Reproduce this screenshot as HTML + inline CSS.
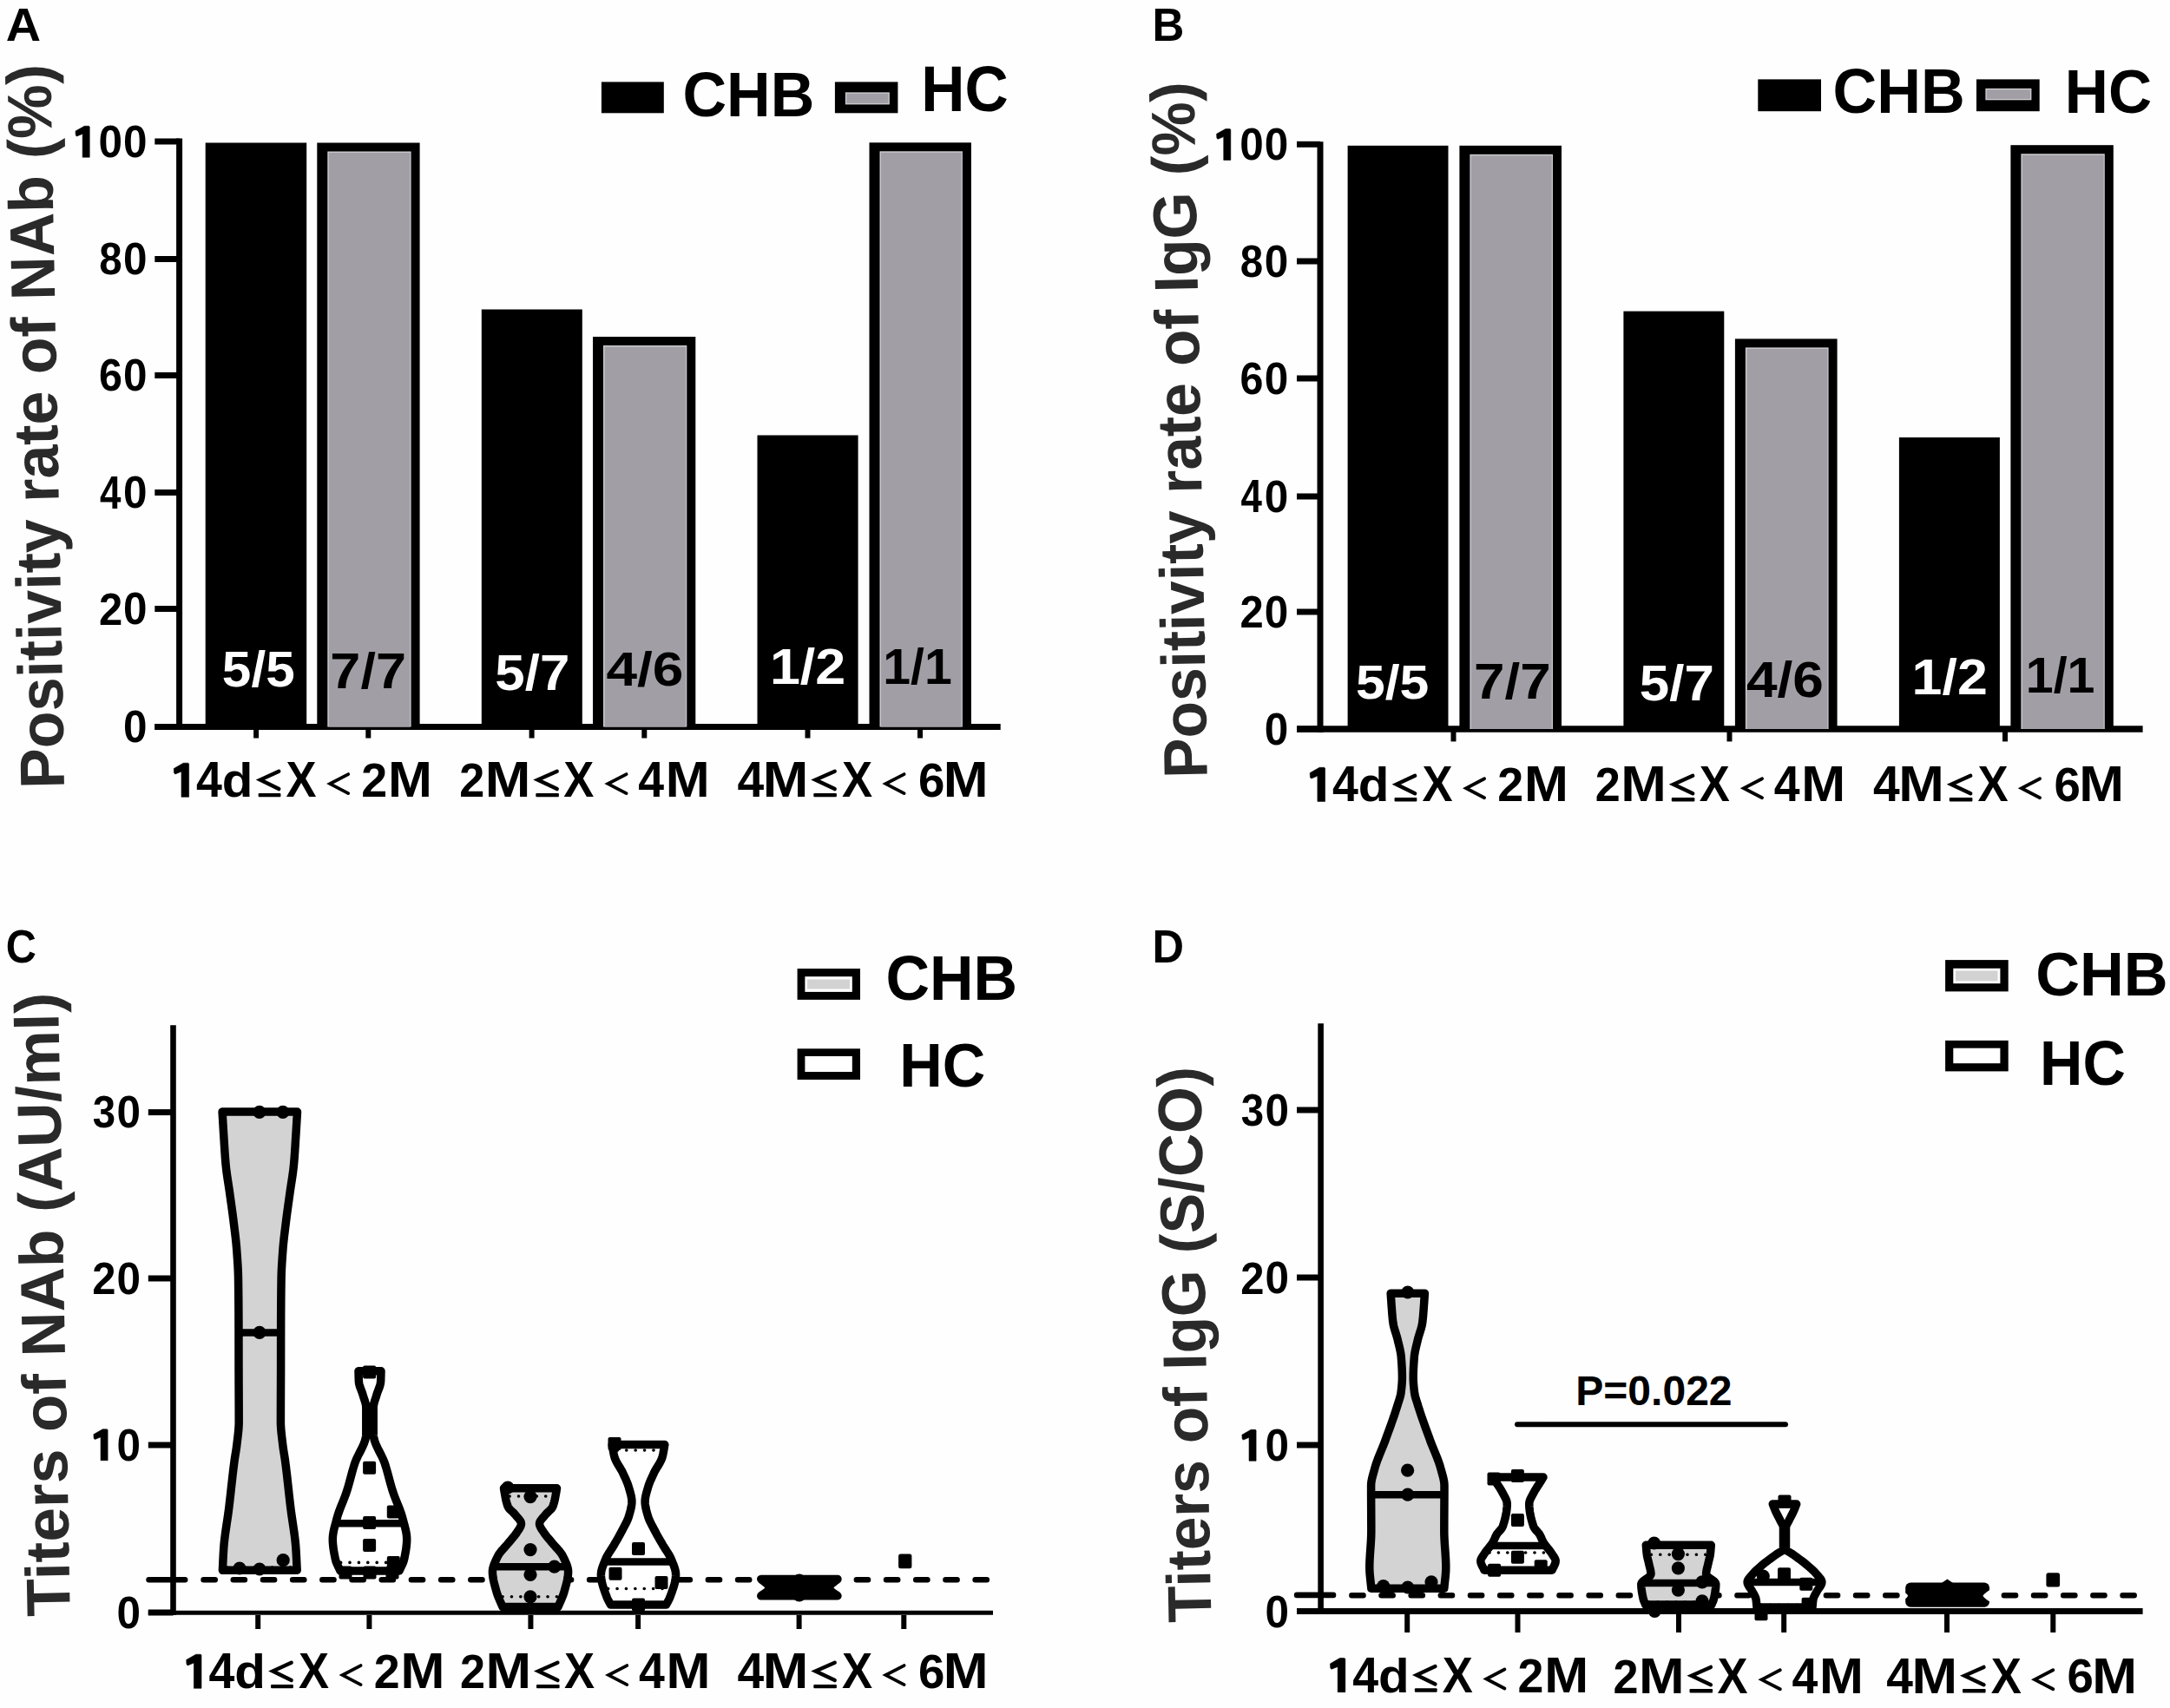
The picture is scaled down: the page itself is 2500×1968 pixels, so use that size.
<!DOCTYPE html>
<html><head><meta charset="utf-8"><style>
html,body{margin:0;padding:0;background:#fff;}
svg{display:block;}
text{font-family:"Liberation Sans",sans-serif;}
</style></head><body>
<svg width="2500" height="1968" viewBox="0 0 2500 1968" xmlns="http://www.w3.org/2000/svg">
<rect x="0" y="0" width="2500" height="1968" fill="#fefefe"/>
<text x="6.70" y="47.00" font-size="53.91" font-weight="bold" textLength="40.31" lengthAdjust="spacingAndGlyphs" fill="#000" >A</text>
<rect x="692.90" y="94.40" width="71.90" height="35.90" fill="#000" />
<text x="786.50" y="134.00" font-size="72.46" font-weight="bold" textLength="151.76" lengthAdjust="spacingAndGlyphs" fill="#000" >CHB</text>
<rect x="961.90" y="94.40" width="72.50" height="35.90" fill="#000" />
<rect x="973.90" y="106.40" width="50.90" height="14.00" fill="#d0d0d0" />
<rect x="975.20" y="107.70" width="48.30" height="11.40" fill="#a19fa5" />
<text x="1061.28" y="128.00" font-size="73.91" font-weight="bold" textLength="100.36" lengthAdjust="spacingAndGlyphs" fill="#000" >HC</text>
<line x1="206.60" y1="159.50" x2="206.60" y2="841.00" stroke="#000" stroke-width="7" />
<line x1="178.30" y1="163.00" x2="206.60" y2="163.00" stroke="#000" stroke-width="7" />
<line x1="178.30" y1="298.50" x2="206.60" y2="298.50" stroke="#000" stroke-width="7" />
<line x1="178.30" y1="432.50" x2="206.60" y2="432.50" stroke="#000" stroke-width="7" />
<line x1="178.30" y1="567.50" x2="206.60" y2="567.50" stroke="#000" stroke-width="7" />
<line x1="178.30" y1="701.50" x2="206.60" y2="701.50" stroke="#000" stroke-width="7" />
<line x1="178.30" y1="837.50" x2="206.60" y2="837.50" stroke="#000" stroke-width="7" />
<line x1="178.30" y1="837.50" x2="1152.70" y2="837.50" stroke="#000" stroke-width="7" />
<line x1="295.10" y1="841.00" x2="295.10" y2="850.50" stroke="#000" stroke-width="6" />
<line x1="424.30" y1="841.00" x2="424.30" y2="850.50" stroke="#000" stroke-width="6" />
<line x1="612.60" y1="841.00" x2="612.60" y2="850.50" stroke="#000" stroke-width="6" />
<line x1="742.30" y1="841.00" x2="742.30" y2="850.50" stroke="#000" stroke-width="6" />
<line x1="930.50" y1="841.00" x2="930.50" y2="850.50" stroke="#000" stroke-width="6" />
<line x1="1060.00" y1="841.00" x2="1060.00" y2="850.50" stroke="#000" stroke-width="6" />
<path d="M95.15,181.15 L103.20,181.15 L103.20,145.89 L102.26,145.25 L97.30,145.25 L87.00,151.03 L87.28,155.90 L88.50,156.91 L95.15,154.25 Z" fill="#000" stroke="#000" stroke-width="0.6" stroke-linejoin="round"/>
<text transform="translate(113.62,180.94) scale(0.4947,0.5141)" font-size="100" font-weight="bold" fill="#000">0</text>
<text transform="translate(142.12,180.94) scale(0.4947,0.5141)" font-size="100" font-weight="bold" fill="#000">0</text>
<text transform="translate(114.18,316.44) scale(0.4747,0.5141)" font-size="100" font-weight="bold" fill="#000">8</text>
<text transform="translate(142.12,316.44) scale(0.4947,0.5141)" font-size="100" font-weight="bold" fill="#000">0</text>
<text transform="translate(113.90,450.44) scale(0.4845,0.5141)" font-size="100" font-weight="bold" fill="#000">6</text>
<text transform="translate(142.12,450.44) scale(0.4947,0.5141)" font-size="100" font-weight="bold" fill="#000">0</text>
<text transform="translate(114.94,585.95) scale(0.4393,0.5290)" font-size="100" font-weight="bold" fill="#000">4</text>
<text transform="translate(142.12,585.44) scale(0.4947,0.5141)" font-size="100" font-weight="bold" fill="#000">0</text>
<text transform="translate(113.89,719.95) scale(0.4896,0.5214)" font-size="100" font-weight="bold" fill="#000">2</text>
<text transform="translate(142.12,719.44) scale(0.4947,0.5141)" font-size="100" font-weight="bold" fill="#000">0</text>
<text transform="translate(142.12,855.44) scale(0.4947,0.5141)" font-size="100" font-weight="bold" fill="#000">0</text>
<rect x="236.70" y="164.50" width="116.50" height="673.00" fill="#000" />
<rect x="365.30" y="164.50" width="118.30" height="673.00" fill="#000" />
<rect x="377.30" y="174.50" width="96.30" height="663.00" fill="#c9c8cc" />
<rect x="378.80" y="176.00" width="93.60" height="661.50" fill="#a19fa5" />
<rect x="554.80" y="356.50" width="116.00" height="481.00" fill="#000" />
<rect x="683.00" y="388.00" width="118.30" height="449.50" fill="#000" />
<rect x="695.00" y="398.00" width="96.30" height="439.50" fill="#c9c8cc" />
<rect x="696.50" y="399.50" width="93.60" height="438.00" fill="#a19fa5" />
<rect x="872.50" y="501.50" width="116.10" height="336.00" fill="#000" />
<rect x="1001.50" y="164.30" width="117.40" height="673.20" fill="#000" />
<rect x="1013.50" y="174.30" width="95.40" height="663.20" fill="#c9c8cc" />
<rect x="1015.00" y="175.80" width="92.70" height="661.70" fill="#a19fa5" />
<text x="255.89" y="790.80" font-size="56.81" font-weight="bold" textLength="83.83" lengthAdjust="spacingAndGlyphs" fill="#fff" >5/5</text>
<text x="380.37" y="793.00" font-size="56.81" font-weight="bold" textLength="87.58" lengthAdjust="spacingAndGlyphs" fill="#000" >7/7</text>
<text x="570.35" y="795.30" font-size="56.96" font-weight="bold" textLength="85.95" lengthAdjust="spacingAndGlyphs" fill="#fff" >5/7</text>
<text x="698.44" y="790.30" font-size="56.09" font-weight="bold" textLength="88.91" lengthAdjust="spacingAndGlyphs" fill="#000" >4/6</text>
<text x="886.91" y="788.00" font-size="56.81" font-weight="bold" textLength="87.41" lengthAdjust="spacingAndGlyphs" fill="#fff" >1/2</text>
<text x="1017.28" y="788.00" font-size="56.81" font-weight="bold" textLength="79.54" lengthAdjust="spacingAndGlyphs" fill="#000" >1/1</text>
<path d="M209.00,918.30 L217.60,918.30 L217.60,879.90 L216.60,879.20 L211.30,879.20 L200.30,885.50 L200.60,890.80 L201.90,891.90 L209.00,889.00 Z" fill="#000" stroke="#000" stroke-width="0.6" stroke-linejoin="round"/>
<text transform="translate(226.04,918.30) scale(0.5374,0.5667)" font-size="100" font-weight="bold" fill="#000">4</text>
<text transform="translate(255.81,918.14) scale(0.5842,0.5578)" font-size="100" font-weight="bold" fill="#000">d</text>
<path d="M321.25,888.70 L299.85,898.60 L321.25,909.10" fill="none" stroke="#000" stroke-width="4.4" stroke-linecap="round"/><rect x="297.65" y="913.90" width="25.80" height="4.4" rx="1" fill="#000"/>
<text transform="translate(329.57,918.30) scale(0.5256,0.5667)" font-size="100" font-weight="bold" fill="#000">X</text>
<path d="M401.20,892.10 L380.20,903.10 L401.20,914.10" fill="none" stroke="#000" stroke-width="3.8" stroke-linecap="round" stroke-linejoin="miter"/>
<text transform="translate(416.37,918.30) scale(0.5375,0.5586)" font-size="100" font-weight="bold" fill="#000">2</text>
<text transform="translate(447.03,918.30) scale(0.6114,0.5667)" font-size="100" font-weight="bold" fill="#000">M</text>
<text transform="translate(529.28,918.30) scale(0.5208,0.5586)" font-size="100" font-weight="bold" fill="#000">2</text>
<text transform="translate(558.70,918.30) scale(0.6314,0.5667)" font-size="100" font-weight="bold" fill="#000">M</text>
<path d="M641.70,888.70 L619.50,898.60 L641.70,909.10" fill="none" stroke="#000" stroke-width="4.4" stroke-linecap="round"/><rect x="617.30" y="913.90" width="26.60" height="4.4" rx="1" fill="#000"/>
<text transform="translate(649.27,918.30) scale(0.5256,0.5667)" font-size="100" font-weight="bold" fill="#000">X</text>
<path d="M721.60,892.10 L700.40,903.10 L721.60,914.10" fill="none" stroke="#000" stroke-width="3.8" stroke-linecap="round" stroke-linejoin="miter"/>
<text transform="translate(735.30,918.30) scale(0.5364,0.5667)" font-size="100" font-weight="bold" fill="#000">4</text>
<text transform="translate(766.73,918.30) scale(0.6114,0.5667)" font-size="100" font-weight="bold" fill="#000">M</text>
<text transform="translate(849.47,918.30) scale(0.5514,0.5667)" font-size="100" font-weight="bold" fill="#000">4</text>
<text transform="translate(878.70,918.30) scale(0.6314,0.5667)" font-size="100" font-weight="bold" fill="#000">M</text>
<path d="M961.70,888.70 L939.50,898.60 L961.70,909.10" fill="none" stroke="#000" stroke-width="4.4" stroke-linecap="round"/><rect x="937.30" y="913.90" width="26.60" height="4.4" rx="1" fill="#000"/>
<text transform="translate(969.97,918.30) scale(0.5271,0.5667)" font-size="100" font-weight="bold" fill="#000">X</text>
<path d="M1041.60,892.10 L1020.40,903.10 L1041.60,914.10" fill="none" stroke="#000" stroke-width="3.8" stroke-linecap="round" stroke-linejoin="miter"/>
<text transform="translate(1057.89,918.14) scale(0.5464,0.5563)" font-size="100" font-weight="bold" fill="#000">6</text>
<text transform="translate(1086.66,918.30) scale(0.6214,0.5667)" font-size="100" font-weight="bold" fill="#000">M</text>
<text transform="translate(74.09,908.34) rotate(-91.100)" x="0" y="0" font-size="72.17" font-weight="bold" textLength="834.75" lengthAdjust="spacingAndGlyphs" fill="#2a2a2a" >Positivity rate of NAb (%)</text>
<text x="1327.39" y="46.80" font-size="53.62" font-weight="bold" textLength="36.82" lengthAdjust="spacingAndGlyphs" fill="#000" >B</text>
<rect x="2025.30" y="91.40" width="72.70" height="36.80" fill="#000" />
<text x="2111.39" y="130.20" font-size="72.17" font-weight="bold" textLength="152.28" lengthAdjust="spacingAndGlyphs" fill="#000" >CHB</text>
<rect x="2277.00" y="91.40" width="72.70" height="36.80" fill="#000" />
<rect x="2287.40" y="101.90" width="53.00" height="13.40" fill="#d0d0d0" />
<rect x="2288.70" y="103.20" width="50.40" height="10.80" fill="#a19fa5" />
<text x="2378.79" y="130.20" font-size="70.87" font-weight="bold" textLength="100.25" lengthAdjust="spacingAndGlyphs" fill="#000" >HC</text>
<line x1="1521.00" y1="163.30" x2="1521.00" y2="844.00" stroke="#000" stroke-width="7" />
<line x1="1494.00" y1="166.30" x2="1521.00" y2="166.30" stroke="#000" stroke-width="7" />
<line x1="1494.00" y1="301.00" x2="1521.00" y2="301.00" stroke="#000" stroke-width="7" />
<line x1="1494.00" y1="436.00" x2="1521.00" y2="436.00" stroke="#000" stroke-width="7" />
<line x1="1494.00" y1="572.00" x2="1521.00" y2="572.00" stroke="#000" stroke-width="7" />
<line x1="1494.00" y1="705.00" x2="1521.00" y2="705.00" stroke="#000" stroke-width="7" />
<line x1="1494.00" y1="840.00" x2="1521.00" y2="840.00" stroke="#000" stroke-width="7" />
<line x1="1494.00" y1="840.00" x2="2468.60" y2="840.00" stroke="#000" stroke-width="7.5" />
<line x1="1674.50" y1="843.00" x2="1674.50" y2="854.40" stroke="#000" stroke-width="6" />
<line x1="1992.50" y1="843.00" x2="1992.50" y2="854.40" stroke="#000" stroke-width="6" />
<line x1="2310.00" y1="843.00" x2="2310.00" y2="854.40" stroke="#000" stroke-width="6" />
<path d="M1409.75,184.45 L1417.80,184.45 L1417.80,149.19 L1416.86,148.55 L1411.90,148.55 L1401.60,154.33 L1401.88,159.20 L1403.10,160.21 L1409.75,157.55 Z" fill="#000" stroke="#000" stroke-width="0.6" stroke-linejoin="round"/>
<text transform="translate(1428.22,184.24) scale(0.4947,0.5141)" font-size="100" font-weight="bold" fill="#000">0</text>
<text transform="translate(1456.72,184.24) scale(0.4947,0.5141)" font-size="100" font-weight="bold" fill="#000">0</text>
<text transform="translate(1428.78,318.94) scale(0.4747,0.5141)" font-size="100" font-weight="bold" fill="#000">8</text>
<text transform="translate(1456.72,318.94) scale(0.4947,0.5141)" font-size="100" font-weight="bold" fill="#000">0</text>
<text transform="translate(1428.50,453.94) scale(0.4845,0.5141)" font-size="100" font-weight="bold" fill="#000">6</text>
<text transform="translate(1456.72,453.94) scale(0.4947,0.5141)" font-size="100" font-weight="bold" fill="#000">0</text>
<text transform="translate(1429.54,590.45) scale(0.4393,0.5290)" font-size="100" font-weight="bold" fill="#000">4</text>
<text transform="translate(1456.72,589.94) scale(0.4947,0.5141)" font-size="100" font-weight="bold" fill="#000">0</text>
<text transform="translate(1428.49,723.45) scale(0.4896,0.5214)" font-size="100" font-weight="bold" fill="#000">2</text>
<text transform="translate(1456.72,722.94) scale(0.4947,0.5141)" font-size="100" font-weight="bold" fill="#000">0</text>
<text transform="translate(1456.72,857.94) scale(0.4947,0.5141)" font-size="100" font-weight="bold" fill="#000">0</text>
<rect x="1552.60" y="167.80" width="115.90" height="672.20" fill="#000" />
<rect x="1681.40" y="167.80" width="117.60" height="672.20" fill="#000" />
<rect x="1693.40" y="177.80" width="95.60" height="662.20" fill="#c9c8cc" />
<rect x="1694.90" y="179.30" width="92.90" height="660.70" fill="#a19fa5" />
<rect x="1870.40" y="358.60" width="115.90" height="481.40" fill="#000" />
<rect x="1998.90" y="390.40" width="117.70" height="449.60" fill="#000" />
<rect x="2010.90" y="400.40" width="95.70" height="439.60" fill="#c9c8cc" />
<rect x="2012.40" y="401.90" width="93.00" height="438.10" fill="#a19fa5" />
<rect x="2187.90" y="504.00" width="116.00" height="336.00" fill="#000" />
<rect x="2316.40" y="167.20" width="118.40" height="672.80" fill="#000" />
<rect x="2328.40" y="177.20" width="96.40" height="662.80" fill="#c9c8cc" />
<rect x="2329.90" y="178.70" width="93.70" height="661.30" fill="#a19fa5" />
<text x="1561.98" y="804.50" font-size="55.94" font-weight="bold" textLength="84.35" lengthAdjust="spacingAndGlyphs" fill="#fff" >5/5</text>
<text x="1698.03" y="805.10" font-size="56.81" font-weight="bold" textLength="88.76" lengthAdjust="spacingAndGlyphs" fill="#000" >7/7</text>
<text x="1888.85" y="807.40" font-size="56.81" font-weight="bold" textLength="85.95" lengthAdjust="spacingAndGlyphs" fill="#fff" >5/7</text>
<text x="2011.94" y="802.80" font-size="56.81" font-weight="bold" textLength="89.01" lengthAdjust="spacingAndGlyphs" fill="#000" >4/6</text>
<text x="2202.62" y="799.90" font-size="56.81" font-weight="bold" textLength="87.20" lengthAdjust="spacingAndGlyphs" fill="#fff" >1/2</text>
<text x="2333.77" y="797.60" font-size="56.81" font-weight="bold" textLength="79.76" lengthAdjust="spacingAndGlyphs" fill="#000" >1/1</text>
<path d="M1517.90,923.40 L1526.50,923.40 L1526.50,885.00 L1525.50,884.30 L1520.20,884.30 L1509.20,890.60 L1509.50,895.90 L1510.80,897.00 L1517.90,894.10 Z" fill="#000" stroke="#000" stroke-width="0.6" stroke-linejoin="round"/>
<text transform="translate(1534.94,923.40) scale(0.5374,0.5667)" font-size="100" font-weight="bold" fill="#000">4</text>
<text transform="translate(1564.71,923.24) scale(0.5842,0.5578)" font-size="100" font-weight="bold" fill="#000">d</text>
<path d="M1630.15,893.80 L1608.75,903.70 L1630.15,914.20" fill="none" stroke="#000" stroke-width="4.4" stroke-linecap="round"/><rect x="1606.55" y="919.00" width="25.80" height="4.4" rx="1" fill="#000"/>
<text transform="translate(1638.47,923.40) scale(0.5256,0.5667)" font-size="100" font-weight="bold" fill="#000">X</text>
<path d="M1710.10,897.20 L1689.10,908.20 L1710.10,919.20" fill="none" stroke="#000" stroke-width="3.8" stroke-linecap="round" stroke-linejoin="miter"/>
<text transform="translate(1725.27,923.40) scale(0.5375,0.5586)" font-size="100" font-weight="bold" fill="#000">2</text>
<text transform="translate(1755.93,923.40) scale(0.6114,0.5667)" font-size="100" font-weight="bold" fill="#000">M</text>
<text transform="translate(1837.78,923.40) scale(0.5208,0.5586)" font-size="100" font-weight="bold" fill="#000">2</text>
<text transform="translate(1867.20,923.40) scale(0.6314,0.5667)" font-size="100" font-weight="bold" fill="#000">M</text>
<path d="M1950.20,893.80 L1928.00,903.70 L1950.20,914.20" fill="none" stroke="#000" stroke-width="4.4" stroke-linecap="round"/><rect x="1925.80" y="919.00" width="26.60" height="4.4" rx="1" fill="#000"/>
<text transform="translate(1957.77,923.40) scale(0.5256,0.5667)" font-size="100" font-weight="bold" fill="#000">X</text>
<path d="M2030.10,897.20 L2008.90,908.20 L2030.10,919.20" fill="none" stroke="#000" stroke-width="3.8" stroke-linecap="round" stroke-linejoin="miter"/>
<text transform="translate(2043.80,923.40) scale(0.5364,0.5667)" font-size="100" font-weight="bold" fill="#000">4</text>
<text transform="translate(2075.23,923.40) scale(0.6114,0.5667)" font-size="100" font-weight="bold" fill="#000">M</text>
<text transform="translate(2157.97,923.40) scale(0.5514,0.5667)" font-size="100" font-weight="bold" fill="#000">4</text>
<text transform="translate(2187.20,923.40) scale(0.6314,0.5667)" font-size="100" font-weight="bold" fill="#000">M</text>
<path d="M2270.20,893.80 L2248.00,903.70 L2270.20,914.20" fill="none" stroke="#000" stroke-width="4.4" stroke-linecap="round"/><rect x="2245.80" y="919.00" width="26.60" height="4.4" rx="1" fill="#000"/>
<text transform="translate(2278.47,923.40) scale(0.5271,0.5667)" font-size="100" font-weight="bold" fill="#000">X</text>
<path d="M2350.10,897.20 L2328.90,908.20 L2350.10,919.20" fill="none" stroke="#000" stroke-width="3.8" stroke-linecap="round" stroke-linejoin="miter"/>
<text transform="translate(2366.39,923.24) scale(0.5464,0.5563)" font-size="100" font-weight="bold" fill="#000">6</text>
<text transform="translate(2395.16,923.40) scale(0.6214,0.5667)" font-size="100" font-weight="bold" fill="#000">M</text>
<text transform="translate(1390.79,896.21) rotate(-91.100)" x="0" y="0" font-size="71.16" font-weight="bold" textLength="802.58" lengthAdjust="spacingAndGlyphs" fill="#2a2a2a" >Positivity rate of IgG (%)</text>
<text x="6.85" y="1108.50" font-size="52.90" font-weight="bold" textLength="35.17" lengthAdjust="spacingAndGlyphs" fill="#000" >C</text>
<rect x="918.60" y="1116.10" width="72.40" height="35.80" fill="#000" />
<rect x="927.40" y="1125.20" width="54.40" height="17.70" fill="#fff" />
<rect x="930.00" y="1128.50" width="49.00" height="11.00" fill="#d2d2d2" />
<text x="1020.50" y="1152.00" font-size="71.59" font-weight="bold" textLength="151.66" lengthAdjust="spacingAndGlyphs" fill="#000" >CHB</text>
<rect x="918.60" y="1208.30" width="72.40" height="35.70" fill="#000" />
<rect x="927.40" y="1217.00" width="54.40" height="18.00" fill="#fff" />
<text x="1036.35" y="1251.60" font-size="70.58" font-weight="bold" textLength="98.97" lengthAdjust="spacingAndGlyphs" fill="#000" >HC</text>
<line x1="199.50" y1="1181.20" x2="199.50" y2="1861.00" stroke="#000" stroke-width="6.6" />
<line x1="170.80" y1="1281.60" x2="199.50" y2="1281.60" stroke="#000" stroke-width="7" />
<line x1="170.80" y1="1473.00" x2="199.50" y2="1473.00" stroke="#000" stroke-width="7" />
<line x1="170.80" y1="1665.00" x2="199.50" y2="1665.00" stroke="#000" stroke-width="7" />
<line x1="170.80" y1="1858.00" x2="199.50" y2="1858.00" stroke="#000" stroke-width="7" />
<line x1="170.80" y1="1858.20" x2="1144.00" y2="1858.20" stroke="#000" stroke-width="5" />
<line x1="297.20" y1="1861.00" x2="297.20" y2="1877.00" stroke="#000" stroke-width="6" />
<line x1="425.40" y1="1861.00" x2="425.40" y2="1877.00" stroke="#000" stroke-width="6" />
<line x1="611.40" y1="1861.00" x2="611.40" y2="1877.00" stroke="#000" stroke-width="6" />
<line x1="735.10" y1="1861.00" x2="735.10" y2="1877.00" stroke="#000" stroke-width="6" />
<line x1="920.60" y1="1861.00" x2="920.60" y2="1877.00" stroke="#000" stroke-width="6" />
<line x1="1041.30" y1="1861.00" x2="1041.30" y2="1877.00" stroke="#000" stroke-width="6" />
<text transform="translate(106.81,1299.14) scale(0.4747,0.5141)" font-size="100" font-weight="bold" fill="#000">3</text>
<text transform="translate(134.52,1299.14) scale(0.4947,0.5141)" font-size="100" font-weight="bold" fill="#000">0</text>
<text transform="translate(106.29,1491.05) scale(0.4896,0.5214)" font-size="100" font-weight="bold" fill="#000">2</text>
<text transform="translate(134.52,1490.54) scale(0.4947,0.5141)" font-size="100" font-weight="bold" fill="#000">0</text>
<path d="M116.05,1682.75 L124.10,1682.75 L124.10,1647.49 L123.16,1646.85 L118.20,1646.85 L107.90,1652.63 L108.18,1657.50 L109.40,1658.51 L116.05,1655.85 Z" fill="#000" stroke="#000" stroke-width="0.6" stroke-linejoin="round"/>
<text transform="translate(134.52,1682.54) scale(0.4947,0.5141)" font-size="100" font-weight="bold" fill="#000">0</text>
<text transform="translate(134.52,1875.54) scale(0.4947,0.5141)" font-size="100" font-weight="bold" fill="#000">0</text>
<path d="M223.40,1945.30 L232.00,1945.30 L232.00,1906.90 L231.00,1906.20 L225.70,1906.20 L214.70,1912.50 L215.00,1917.80 L216.30,1918.90 L223.40,1916.00 Z" fill="#000" stroke="#000" stroke-width="0.6" stroke-linejoin="round"/>
<text transform="translate(240.44,1945.30) scale(0.5374,0.5667)" font-size="100" font-weight="bold" fill="#000">4</text>
<text transform="translate(270.21,1945.14) scale(0.5842,0.5578)" font-size="100" font-weight="bold" fill="#000">d</text>
<path d="M335.65,1915.70 L314.25,1925.60 L335.65,1936.10" fill="none" stroke="#000" stroke-width="4.4" stroke-linecap="round"/><rect x="312.05" y="1940.90" width="25.80" height="4.4" rx="1" fill="#000"/>
<text transform="translate(343.97,1945.30) scale(0.5256,0.5667)" font-size="100" font-weight="bold" fill="#000">X</text>
<path d="M415.60,1919.10 L394.60,1930.10 L415.60,1941.10" fill="none" stroke="#000" stroke-width="3.8" stroke-linecap="round" stroke-linejoin="miter"/>
<text transform="translate(430.77,1945.30) scale(0.5375,0.5586)" font-size="100" font-weight="bold" fill="#000">2</text>
<text transform="translate(461.43,1945.30) scale(0.6114,0.5667)" font-size="100" font-weight="bold" fill="#000">M</text>
<text transform="translate(529.98,1945.30) scale(0.5208,0.5586)" font-size="100" font-weight="bold" fill="#000">2</text>
<text transform="translate(559.40,1945.30) scale(0.6314,0.5667)" font-size="100" font-weight="bold" fill="#000">M</text>
<path d="M642.40,1915.70 L620.20,1925.60 L642.40,1936.10" fill="none" stroke="#000" stroke-width="4.4" stroke-linecap="round"/><rect x="618.00" y="1940.90" width="26.60" height="4.4" rx="1" fill="#000"/>
<text transform="translate(649.97,1945.30) scale(0.5256,0.5667)" font-size="100" font-weight="bold" fill="#000">X</text>
<path d="M722.30,1919.10 L701.10,1930.10 L722.30,1941.10" fill="none" stroke="#000" stroke-width="3.8" stroke-linecap="round" stroke-linejoin="miter"/>
<text transform="translate(736.00,1945.30) scale(0.5364,0.5667)" font-size="100" font-weight="bold" fill="#000">4</text>
<text transform="translate(767.43,1945.30) scale(0.6114,0.5667)" font-size="100" font-weight="bold" fill="#000">M</text>
<text transform="translate(849.47,1945.30) scale(0.5514,0.5667)" font-size="100" font-weight="bold" fill="#000">4</text>
<text transform="translate(878.70,1945.30) scale(0.6314,0.5667)" font-size="100" font-weight="bold" fill="#000">M</text>
<path d="M961.70,1915.70 L939.50,1925.60 L961.70,1936.10" fill="none" stroke="#000" stroke-width="4.4" stroke-linecap="round"/><rect x="937.30" y="1940.90" width="26.60" height="4.4" rx="1" fill="#000"/>
<text transform="translate(969.97,1945.30) scale(0.5271,0.5667)" font-size="100" font-weight="bold" fill="#000">X</text>
<path d="M1041.60,1919.10 L1020.40,1930.10 L1041.60,1941.10" fill="none" stroke="#000" stroke-width="3.8" stroke-linecap="round" stroke-linejoin="miter"/>
<text transform="translate(1057.89,1945.14) scale(0.5464,0.5563)" font-size="100" font-weight="bold" fill="#000">6</text>
<text transform="translate(1086.66,1945.30) scale(0.6214,0.5667)" font-size="100" font-weight="bold" fill="#000">M</text>
<text transform="translate(80.81,1862.01) rotate(-91.100)" x="0" y="0" font-size="71.30" font-weight="bold" textLength="718.75" lengthAdjust="spacingAndGlyphs" fill="#2a2a2a" >Titers of NAb (AU/ml)</text>
<text x="1327.41" y="1108.70" font-size="53.19" font-weight="bold" textLength="36.52" lengthAdjust="spacingAndGlyphs" fill="#000" >D</text>
<rect x="2241.10" y="1106.10" width="72.60" height="36.30" fill="#000" />
<rect x="2250.30" y="1115.80" width="54.10" height="17.40" fill="#fff" />
<rect x="2253.00" y="1118.50" width="48.50" height="12.00" fill="#d2d2d2" />
<text x="2345.18" y="1146.50" font-size="71.30" font-weight="bold" textLength="152.49" lengthAdjust="spacingAndGlyphs" fill="#000" >CHB</text>
<rect x="2241.10" y="1198.90" width="72.60" height="35.50" fill="#000" />
<rect x="2250.30" y="1207.70" width="54.10" height="17.50" fill="#fff" />
<text x="2350.06" y="1250.00" font-size="71.74" font-weight="bold" textLength="98.75" lengthAdjust="spacingAndGlyphs" fill="#000" >HC</text>
<line x1="1521.60" y1="1179.30" x2="1521.60" y2="1860.00" stroke="#000" stroke-width="6.6" />
<line x1="1494.00" y1="1279.00" x2="1521.60" y2="1279.00" stroke="#000" stroke-width="7" />
<line x1="1494.00" y1="1472.00" x2="1521.60" y2="1472.00" stroke="#000" stroke-width="7" />
<line x1="1494.00" y1="1665.00" x2="1521.60" y2="1665.00" stroke="#000" stroke-width="7" />
<line x1="1494.00" y1="1856.50" x2="1521.60" y2="1856.50" stroke="#000" stroke-width="7" />
<line x1="1494.00" y1="1856.50" x2="2468.60" y2="1856.50" stroke="#000" stroke-width="7" />
<line x1="1621.20" y1="1860.00" x2="1621.20" y2="1881.00" stroke="#000" stroke-width="6" />
<line x1="1748.50" y1="1860.00" x2="1748.50" y2="1881.00" stroke="#000" stroke-width="6" />
<line x1="1934.00" y1="1860.00" x2="1934.00" y2="1881.00" stroke="#000" stroke-width="6" />
<line x1="2055.20" y1="1860.00" x2="2055.20" y2="1881.00" stroke="#000" stroke-width="6" />
<line x1="2243.00" y1="1860.00" x2="2243.00" y2="1881.00" stroke="#000" stroke-width="6" />
<line x1="2365.30" y1="1860.00" x2="2365.30" y2="1881.00" stroke="#000" stroke-width="6" />
<text transform="translate(1429.81,1297.04) scale(0.4747,0.5141)" font-size="100" font-weight="bold" fill="#000">3</text>
<text transform="translate(1457.52,1297.04) scale(0.4947,0.5141)" font-size="100" font-weight="bold" fill="#000">0</text>
<text transform="translate(1429.29,1490.55) scale(0.4896,0.5214)" font-size="100" font-weight="bold" fill="#000">2</text>
<text transform="translate(1457.52,1490.04) scale(0.4947,0.5141)" font-size="100" font-weight="bold" fill="#000">0</text>
<path d="M1439.05,1683.25 L1447.10,1683.25 L1447.10,1647.99 L1446.16,1647.35 L1441.20,1647.35 L1430.90,1653.13 L1431.18,1658.00 L1432.40,1659.01 L1439.05,1656.35 Z" fill="#000" stroke="#000" stroke-width="0.6" stroke-linejoin="round"/>
<text transform="translate(1457.52,1683.04) scale(0.4947,0.5141)" font-size="100" font-weight="bold" fill="#000">0</text>
<text transform="translate(1457.52,1874.54) scale(0.4947,0.5141)" font-size="100" font-weight="bold" fill="#000">0</text>
<path d="M1541.20,1949.70 L1549.80,1949.70 L1549.80,1911.30 L1548.80,1910.60 L1543.50,1910.60 L1532.50,1916.90 L1532.80,1922.20 L1534.10,1923.30 L1541.20,1920.40 Z" fill="#000" stroke="#000" stroke-width="0.6" stroke-linejoin="round"/>
<text transform="translate(1558.24,1949.70) scale(0.5374,0.5667)" font-size="100" font-weight="bold" fill="#000">4</text>
<text transform="translate(1588.01,1949.54) scale(0.5842,0.5578)" font-size="100" font-weight="bold" fill="#000">d</text>
<path d="M1653.45,1920.10 L1632.05,1930.00 L1653.45,1940.50" fill="none" stroke="#000" stroke-width="4.4" stroke-linecap="round"/><rect x="1629.85" y="1945.30" width="25.80" height="4.4" rx="1" fill="#000"/>
<text transform="translate(1661.77,1949.70) scale(0.5256,0.5667)" font-size="100" font-weight="bold" fill="#000">X</text>
<path d="M1733.40,1923.50 L1712.40,1934.50 L1733.40,1945.50" fill="none" stroke="#000" stroke-width="3.8" stroke-linecap="round" stroke-linejoin="miter"/>
<text transform="translate(1748.57,1949.70) scale(0.5375,0.5586)" font-size="100" font-weight="bold" fill="#000">2</text>
<text transform="translate(1779.23,1949.70) scale(0.6114,0.5667)" font-size="100" font-weight="bold" fill="#000">M</text>
<text transform="translate(1858.48,1950.50) scale(0.5208,0.5586)" font-size="100" font-weight="bold" fill="#000">2</text>
<text transform="translate(1887.90,1950.50) scale(0.6314,0.5667)" font-size="100" font-weight="bold" fill="#000">M</text>
<path d="M1970.90,1920.90 L1948.70,1930.80 L1970.90,1941.30" fill="none" stroke="#000" stroke-width="4.4" stroke-linecap="round"/><rect x="1946.50" y="1946.10" width="26.60" height="4.4" rx="1" fill="#000"/>
<text transform="translate(1978.47,1950.50) scale(0.5256,0.5667)" font-size="100" font-weight="bold" fill="#000">X</text>
<path d="M2050.80,1924.30 L2029.60,1935.30 L2050.80,1946.30" fill="none" stroke="#000" stroke-width="3.8" stroke-linecap="round" stroke-linejoin="miter"/>
<text transform="translate(2064.50,1950.50) scale(0.5364,0.5667)" font-size="100" font-weight="bold" fill="#000">4</text>
<text transform="translate(2095.93,1950.50) scale(0.6114,0.5667)" font-size="100" font-weight="bold" fill="#000">M</text>
<text transform="translate(2173.17,1950.50) scale(0.5514,0.5667)" font-size="100" font-weight="bold" fill="#000">4</text>
<text transform="translate(2202.40,1950.50) scale(0.6314,0.5667)" font-size="100" font-weight="bold" fill="#000">M</text>
<path d="M2285.40,1920.90 L2263.20,1930.80 L2285.40,1941.30" fill="none" stroke="#000" stroke-width="4.4" stroke-linecap="round"/><rect x="2261.00" y="1946.10" width="26.60" height="4.4" rx="1" fill="#000"/>
<text transform="translate(2293.67,1950.50) scale(0.5271,0.5667)" font-size="100" font-weight="bold" fill="#000">X</text>
<path d="M2365.30,1924.30 L2344.10,1935.30 L2365.30,1946.30" fill="none" stroke="#000" stroke-width="3.8" stroke-linecap="round" stroke-linejoin="miter"/>
<text transform="translate(2381.59,1950.34) scale(0.5464,0.5563)" font-size="100" font-weight="bold" fill="#000">6</text>
<text transform="translate(2410.36,1950.50) scale(0.6214,0.5667)" font-size="100" font-weight="bold" fill="#000">M</text>
<text transform="translate(1395.41,1868.99) rotate(-91.100)" x="0" y="0" font-size="71.16" font-weight="bold" textLength="640.35" lengthAdjust="spacingAndGlyphs" fill="#2a2a2a" >Titers of IgG (S/CO)</text>
<text x="1815.17" y="1618.50" font-size="47.83" font-weight="bold" textLength="180.47" lengthAdjust="spacingAndGlyphs" fill="#000" >P=0.022</text>
<line x1="1748.00" y1="1641.20" x2="2057.00" y2="1641.20" stroke="#000" stroke-width="6" stroke-linecap="round"/>
<line x1="171.5" y1="1820.2" x2="213.2" y2="1820.2" stroke="#000" stroke-width="6.4" stroke-linecap="round"/>
<line x1="234.50" y1="1820.20" x2="1139.00" y2="1820.20" stroke="#000" stroke-width="6.4" stroke-dasharray="13.3 20.895" stroke-linecap="round"/>
<path d="M342.50,1281.00 L342.41,1282.56 L342.31,1284.11 L342.22,1285.67 L342.13,1287.22 L342.03,1288.78 L341.94,1290.33 L341.85,1291.89 L341.76,1293.44 L341.66,1295.00 L341.57,1296.56 L341.48,1298.11 L341.38,1299.67 L341.29,1301.22 L341.19,1302.78 L341.10,1304.33 L341.00,1305.89 L340.90,1307.44 L340.80,1309.00 L340.70,1310.50 L340.61,1312.00 L340.52,1313.50 L340.42,1315.00 L340.33,1316.50 L340.24,1318.00 L340.15,1319.50 L340.05,1321.00 L339.96,1322.50 L339.86,1324.00 L339.77,1325.50 L339.67,1327.00 L339.57,1328.50 L339.46,1330.00 L339.36,1331.50 L339.25,1333.00 L339.13,1334.50 L339.02,1336.00 L338.89,1337.50 L338.77,1339.00 L338.64,1340.50 L338.50,1342.00 L338.35,1343.50 L338.20,1345.00 L338.03,1346.50 L337.85,1348.00 L337.66,1349.50 L337.46,1351.00 L337.26,1352.50 L337.05,1354.00 L336.83,1355.50 L336.61,1357.00 L336.38,1358.50 L336.15,1360.00 L335.92,1361.50 L335.69,1363.00 L335.46,1364.50 L335.23,1366.00 L335.00,1367.50 L334.77,1369.00 L334.55,1370.50 L334.32,1372.00 L334.11,1373.50 L333.90,1375.00 L333.69,1376.55 L333.47,1378.10 L333.26,1379.64 L333.04,1381.19 L332.82,1382.74 L332.61,1384.29 L332.39,1385.83 L332.17,1387.38 L331.96,1388.93 L331.74,1390.48 L331.53,1392.02 L331.32,1393.57 L331.11,1395.12 L330.90,1396.67 L330.69,1398.21 L330.48,1399.76 L330.28,1401.31 L330.08,1402.86 L329.88,1404.40 L329.69,1405.95 L329.50,1407.50 L329.31,1409.05 L329.12,1410.60 L328.93,1412.14 L328.73,1413.69 L328.54,1415.24 L328.35,1416.79 L328.16,1418.33 L327.97,1419.88 L327.78,1421.43 L327.59,1422.98 L327.41,1424.52 L327.23,1426.07 L327.06,1427.62 L326.89,1429.17 L326.73,1430.71 L326.57,1432.26 L326.42,1433.81 L326.28,1435.36 L326.14,1436.90 L326.02,1438.45 L325.90,1440.00 L325.79,1441.50 L325.68,1443.00 L325.57,1444.50 L325.46,1446.00 L325.36,1447.50 L325.25,1449.00 L325.15,1450.50 L325.05,1452.00 L324.95,1453.50 L324.85,1455.00 L324.76,1456.50 L324.67,1458.00 L324.59,1459.50 L324.51,1461.00 L324.44,1462.50 L324.37,1464.00 L324.31,1465.50 L324.25,1467.00 L324.20,1468.50 L324.16,1470.00 L324.13,1471.50 L324.10,1473.00 L324.08,1474.51 L324.06,1476.03 L324.03,1477.54 L324.01,1479.05 L323.99,1480.57 L323.98,1482.08 L323.96,1483.59 L323.94,1485.11 L323.92,1486.62 L323.90,1488.14 L323.89,1489.65 L323.87,1491.16 L323.86,1492.68 L323.84,1494.19 L323.83,1495.70 L323.81,1497.22 L323.80,1498.73 L323.79,1500.24 L323.78,1501.76 L323.77,1503.27 L323.76,1504.78 L323.75,1506.30 L323.74,1507.81 L323.73,1509.32 L323.72,1510.84 L323.71,1512.35 L323.70,1513.86 L323.69,1515.38 L323.69,1516.89 L323.68,1518.41 L323.68,1519.92 L323.67,1521.43 L323.67,1522.95 L323.66,1524.46 L323.66,1525.97 L323.65,1527.49 L323.65,1529.00 L323.65,1530.50 L323.64,1532.00 L323.64,1533.50 L323.64,1535.00 L323.64,1536.50 L323.64,1538.00 L323.63,1539.50 L323.63,1541.00 L323.63,1542.50 L323.63,1544.00 L323.63,1545.50 L323.63,1547.00 L323.63,1548.50 L323.62,1550.00 L323.62,1551.50 L323.62,1553.00 L323.62,1554.50 L323.62,1556.00 L323.62,1557.50 L323.62,1559.00 L323.62,1560.50 L323.61,1562.00 L323.61,1563.50 L323.61,1565.00 L323.61,1566.50 L323.61,1568.00 L323.61,1569.50 L323.60,1571.00 L323.60,1572.50 L323.60,1574.00 L323.60,1575.52 L323.59,1577.05 L323.59,1578.57 L323.59,1580.10 L323.58,1581.62 L323.58,1583.14 L323.57,1584.67 L323.57,1586.19 L323.56,1587.71 L323.56,1589.24 L323.55,1590.76 L323.55,1592.29 L323.54,1593.81 L323.53,1595.33 L323.53,1596.86 L323.52,1598.38 L323.51,1599.90 L323.51,1601.43 L323.50,1602.95 L323.49,1604.48 L323.49,1606.00 L323.48,1607.52 L323.47,1609.05 L323.47,1610.57 L323.46,1612.10 L323.46,1613.62 L323.45,1615.14 L323.44,1616.67 L323.44,1618.19 L323.43,1619.71 L323.43,1621.24 L323.42,1622.76 L323.42,1624.29 L323.42,1625.81 L323.41,1627.33 L323.41,1628.86 L323.41,1630.38 L323.40,1631.90 L323.40,1633.43 L323.40,1634.95 L323.40,1636.48 L323.40,1638.00 L323.41,1639.50 L323.45,1641.00 L323.51,1642.50 L323.59,1644.00 L323.68,1645.50 L323.80,1647.00 L323.92,1648.50 L324.06,1650.00 L324.22,1651.50 L324.38,1653.00 L324.55,1654.50 L324.72,1656.00 L324.90,1657.50 L325.08,1659.00 L325.27,1660.50 L325.45,1662.00 L325.63,1663.50 L325.80,1665.00 L325.98,1666.50 L326.18,1668.00 L326.40,1669.50 L326.62,1671.00 L326.86,1672.50 L327.10,1674.00 L327.35,1675.50 L327.59,1677.00 L327.83,1678.50 L328.07,1680.00 L328.29,1681.50 L328.50,1683.00 L328.70,1684.53 L328.90,1686.06 L329.10,1687.58 L329.29,1689.11 L329.48,1690.64 L329.67,1692.17 L329.85,1693.69 L330.04,1695.22 L330.22,1696.75 L330.40,1698.28 L330.57,1699.81 L330.75,1701.33 L330.92,1702.86 L331.09,1704.39 L331.26,1705.92 L331.43,1707.44 L331.60,1708.97 L331.77,1710.50 L331.94,1712.03 L332.11,1713.56 L332.28,1715.08 L332.44,1716.61 L332.61,1718.14 L332.78,1719.67 L332.95,1721.19 L333.12,1722.72 L333.29,1724.25 L333.46,1725.78 L333.64,1727.31 L333.81,1728.83 L333.99,1730.36 L334.16,1731.89 L334.35,1733.42 L334.53,1734.94 L334.71,1736.47 L334.90,1738.00 L335.09,1739.50 L335.28,1741.00 L335.49,1742.50 L335.69,1744.00 L335.90,1745.50 L336.12,1747.00 L336.34,1748.50 L336.56,1750.00 L336.78,1751.50 L337.01,1753.00 L337.24,1754.50 L337.46,1756.00 L337.69,1757.50 L337.91,1759.00 L338.13,1760.50 L338.35,1762.00 L338.57,1763.50 L338.78,1765.00 L338.99,1766.50 L339.20,1768.00 L339.39,1769.50 L339.58,1771.00 L339.77,1772.50 L339.94,1774.00 L340.11,1775.50 L340.27,1777.00 L340.42,1778.50 L340.56,1780.00 L340.68,1781.50 L340.80,1783.00 L340.91,1784.55 L341.01,1786.09 L341.11,1787.64 L341.20,1789.19 L341.29,1790.74 L341.37,1792.28 L341.45,1793.83 L341.53,1795.38 L341.60,1796.92 L341.68,1798.47 L341.75,1800.02 L341.82,1801.56 L341.89,1803.11 L341.97,1804.66 L342.04,1806.21 L342.12,1807.75 L342.20,1809.30 L256.40,1809.30 L256.48,1807.75 L256.56,1806.21 L256.63,1804.66 L256.71,1803.11 L256.78,1801.56 L256.85,1800.02 L256.92,1798.47 L257.00,1796.92 L257.07,1795.38 L257.15,1793.83 L257.23,1792.28 L257.31,1790.74 L257.40,1789.19 L257.49,1787.64 L257.59,1786.09 L257.69,1784.55 L257.80,1783.00 L257.92,1781.50 L258.04,1780.00 L258.18,1778.50 L258.33,1777.00 L258.49,1775.50 L258.66,1774.00 L258.83,1772.50 L259.02,1771.00 L259.21,1769.50 L259.40,1768.00 L259.61,1766.50 L259.82,1765.00 L260.03,1763.50 L260.25,1762.00 L260.47,1760.50 L260.69,1759.00 L260.91,1757.50 L261.14,1756.00 L261.36,1754.50 L261.59,1753.00 L261.82,1751.50 L262.04,1750.00 L262.26,1748.50 L262.48,1747.00 L262.70,1745.50 L262.91,1744.00 L263.11,1742.50 L263.32,1741.00 L263.51,1739.50 L263.70,1738.00 L263.89,1736.47 L264.07,1734.94 L264.25,1733.42 L264.44,1731.89 L264.61,1730.36 L264.79,1728.83 L264.96,1727.31 L265.14,1725.78 L265.31,1724.25 L265.48,1722.72 L265.65,1721.19 L265.82,1719.67 L265.99,1718.14 L266.16,1716.61 L266.32,1715.08 L266.49,1713.56 L266.66,1712.03 L266.83,1710.50 L267.00,1708.97 L267.17,1707.44 L267.34,1705.92 L267.51,1704.39 L267.68,1702.86 L267.85,1701.33 L268.03,1699.81 L268.20,1698.28 L268.38,1696.75 L268.56,1695.22 L268.75,1693.69 L268.93,1692.17 L269.12,1690.64 L269.31,1689.11 L269.50,1687.58 L269.70,1686.06 L269.90,1684.53 L270.10,1683.00 L270.31,1681.50 L270.53,1680.00 L270.77,1678.50 L271.01,1677.00 L271.25,1675.50 L271.50,1674.00 L271.74,1672.50 L271.98,1671.00 L272.20,1669.50 L272.42,1668.00 L272.62,1666.50 L272.80,1665.00 L272.97,1663.50 L273.15,1662.00 L273.33,1660.50 L273.52,1659.00 L273.70,1657.50 L273.88,1656.00 L274.05,1654.50 L274.22,1653.00 L274.38,1651.50 L274.54,1650.00 L274.68,1648.50 L274.80,1647.00 L274.92,1645.50 L275.01,1644.00 L275.09,1642.50 L275.15,1641.00 L275.19,1639.50 L275.20,1638.00 L275.20,1636.48 L275.20,1634.95 L275.20,1633.43 L275.20,1631.90 L275.19,1630.38 L275.19,1628.86 L275.19,1627.33 L275.18,1625.81 L275.18,1624.29 L275.18,1622.76 L275.17,1621.24 L275.17,1619.71 L275.16,1618.19 L275.16,1616.67 L275.15,1615.14 L275.14,1613.62 L275.14,1612.10 L275.13,1610.57 L275.13,1609.05 L275.12,1607.52 L275.11,1606.00 L275.11,1604.48 L275.10,1602.95 L275.09,1601.43 L275.09,1599.90 L275.08,1598.38 L275.07,1596.86 L275.07,1595.33 L275.06,1593.81 L275.05,1592.29 L275.05,1590.76 L275.04,1589.24 L275.04,1587.71 L275.03,1586.19 L275.03,1584.67 L275.02,1583.14 L275.02,1581.62 L275.01,1580.10 L275.01,1578.57 L275.01,1577.05 L275.00,1575.52 L275.00,1574.00 L275.00,1572.50 L275.00,1571.00 L274.99,1569.50 L274.99,1568.00 L274.99,1566.50 L274.99,1565.00 L274.99,1563.50 L274.99,1562.00 L274.98,1560.50 L274.98,1559.00 L274.98,1557.50 L274.98,1556.00 L274.98,1554.50 L274.98,1553.00 L274.98,1551.50 L274.98,1550.00 L274.97,1548.50 L274.97,1547.00 L274.97,1545.50 L274.97,1544.00 L274.97,1542.50 L274.97,1541.00 L274.97,1539.50 L274.96,1538.00 L274.96,1536.50 L274.96,1535.00 L274.96,1533.50 L274.96,1532.00 L274.95,1530.50 L274.95,1529.00 L274.95,1527.49 L274.94,1525.97 L274.94,1524.46 L274.93,1522.95 L274.93,1521.43 L274.92,1519.92 L274.92,1518.41 L274.91,1516.89 L274.91,1515.38 L274.90,1513.86 L274.89,1512.35 L274.88,1510.84 L274.87,1509.32 L274.86,1507.81 L274.85,1506.30 L274.84,1504.78 L274.83,1503.27 L274.82,1501.76 L274.81,1500.24 L274.80,1498.73 L274.79,1497.22 L274.77,1495.70 L274.76,1494.19 L274.74,1492.68 L274.73,1491.16 L274.71,1489.65 L274.70,1488.14 L274.68,1486.62 L274.66,1485.11 L274.64,1483.59 L274.62,1482.08 L274.61,1480.57 L274.59,1479.05 L274.57,1477.54 L274.54,1476.03 L274.52,1474.51 L274.50,1473.00 L274.47,1471.50 L274.44,1470.00 L274.40,1468.50 L274.35,1467.00 L274.29,1465.50 L274.23,1464.00 L274.16,1462.50 L274.09,1461.00 L274.01,1459.50 L273.93,1458.00 L273.84,1456.50 L273.75,1455.00 L273.65,1453.50 L273.55,1452.00 L273.45,1450.50 L273.35,1449.00 L273.24,1447.50 L273.14,1446.00 L273.03,1444.50 L272.92,1443.00 L272.81,1441.50 L272.70,1440.00 L272.58,1438.45 L272.46,1436.90 L272.32,1435.36 L272.18,1433.81 L272.03,1432.26 L271.87,1430.71 L271.71,1429.17 L271.54,1427.62 L271.37,1426.07 L271.19,1424.52 L271.01,1422.98 L270.82,1421.43 L270.63,1419.88 L270.44,1418.33 L270.25,1416.79 L270.06,1415.24 L269.87,1413.69 L269.67,1412.14 L269.48,1410.60 L269.29,1409.05 L269.10,1407.50 L268.91,1405.95 L268.72,1404.40 L268.52,1402.86 L268.32,1401.31 L268.12,1399.76 L267.91,1398.21 L267.70,1396.67 L267.49,1395.12 L267.28,1393.57 L267.07,1392.02 L266.86,1390.48 L266.64,1388.93 L266.43,1387.38 L266.21,1385.83 L265.99,1384.29 L265.78,1382.74 L265.56,1381.19 L265.34,1379.64 L265.13,1378.10 L264.91,1376.55 L264.70,1375.00 L264.49,1373.50 L264.28,1372.00 L264.05,1370.50 L263.83,1369.00 L263.60,1367.50 L263.37,1366.00 L263.14,1364.50 L262.91,1363.00 L262.68,1361.50 L262.45,1360.00 L262.22,1358.50 L261.99,1357.00 L261.77,1355.50 L261.55,1354.00 L261.34,1352.50 L261.14,1351.00 L260.94,1349.50 L260.75,1348.00 L260.57,1346.50 L260.40,1345.00 L260.25,1343.50 L260.10,1342.00 L259.96,1340.50 L259.83,1339.00 L259.71,1337.50 L259.58,1336.00 L259.47,1334.50 L259.35,1333.00 L259.24,1331.50 L259.14,1330.00 L259.03,1328.50 L258.93,1327.00 L258.83,1325.50 L258.74,1324.00 L258.64,1322.50 L258.55,1321.00 L258.45,1319.50 L258.36,1318.00 L258.27,1316.50 L258.18,1315.00 L258.08,1313.50 L257.99,1312.00 L257.90,1310.50 L257.80,1309.00 L257.70,1307.44 L257.60,1305.89 L257.50,1304.33 L257.41,1302.78 L257.31,1301.22 L257.22,1299.67 L257.12,1298.11 L257.03,1296.56 L256.94,1295.00 L256.84,1293.44 L256.75,1291.89 L256.66,1290.33 L256.57,1288.78 L256.47,1287.22 L256.38,1285.67 L256.29,1284.11 L256.19,1282.56 L256.10,1281.00 Z" fill="#d3d3d3" stroke="none"/>
<line x1="261.57" y1="1806.00" x2="337.03" y2="1806.00" stroke="#000" stroke-width="3.6" stroke-dasharray="0.1 10.3" stroke-linecap="round"/>
<line x1="274.96" y1="1535.40" x2="323.64" y2="1535.40" stroke="#000" stroke-width="8.5"/>
<path d="M342.50,1281.00 L342.41,1282.56 L342.31,1284.11 L342.22,1285.67 L342.13,1287.22 L342.03,1288.78 L341.94,1290.33 L341.85,1291.89 L341.76,1293.44 L341.66,1295.00 L341.57,1296.56 L341.48,1298.11 L341.38,1299.67 L341.29,1301.22 L341.19,1302.78 L341.10,1304.33 L341.00,1305.89 L340.90,1307.44 L340.80,1309.00 L340.70,1310.50 L340.61,1312.00 L340.52,1313.50 L340.42,1315.00 L340.33,1316.50 L340.24,1318.00 L340.15,1319.50 L340.05,1321.00 L339.96,1322.50 L339.86,1324.00 L339.77,1325.50 L339.67,1327.00 L339.57,1328.50 L339.46,1330.00 L339.36,1331.50 L339.25,1333.00 L339.13,1334.50 L339.02,1336.00 L338.89,1337.50 L338.77,1339.00 L338.64,1340.50 L338.50,1342.00 L338.35,1343.50 L338.20,1345.00 L338.03,1346.50 L337.85,1348.00 L337.66,1349.50 L337.46,1351.00 L337.26,1352.50 L337.05,1354.00 L336.83,1355.50 L336.61,1357.00 L336.38,1358.50 L336.15,1360.00 L335.92,1361.50 L335.69,1363.00 L335.46,1364.50 L335.23,1366.00 L335.00,1367.50 L334.77,1369.00 L334.55,1370.50 L334.32,1372.00 L334.11,1373.50 L333.90,1375.00 L333.69,1376.55 L333.47,1378.10 L333.26,1379.64 L333.04,1381.19 L332.82,1382.74 L332.61,1384.29 L332.39,1385.83 L332.17,1387.38 L331.96,1388.93 L331.74,1390.48 L331.53,1392.02 L331.32,1393.57 L331.11,1395.12 L330.90,1396.67 L330.69,1398.21 L330.48,1399.76 L330.28,1401.31 L330.08,1402.86 L329.88,1404.40 L329.69,1405.95 L329.50,1407.50 L329.31,1409.05 L329.12,1410.60 L328.93,1412.14 L328.73,1413.69 L328.54,1415.24 L328.35,1416.79 L328.16,1418.33 L327.97,1419.88 L327.78,1421.43 L327.59,1422.98 L327.41,1424.52 L327.23,1426.07 L327.06,1427.62 L326.89,1429.17 L326.73,1430.71 L326.57,1432.26 L326.42,1433.81 L326.28,1435.36 L326.14,1436.90 L326.02,1438.45 L325.90,1440.00 L325.79,1441.50 L325.68,1443.00 L325.57,1444.50 L325.46,1446.00 L325.36,1447.50 L325.25,1449.00 L325.15,1450.50 L325.05,1452.00 L324.95,1453.50 L324.85,1455.00 L324.76,1456.50 L324.67,1458.00 L324.59,1459.50 L324.51,1461.00 L324.44,1462.50 L324.37,1464.00 L324.31,1465.50 L324.25,1467.00 L324.20,1468.50 L324.16,1470.00 L324.13,1471.50 L324.10,1473.00 L324.08,1474.51 L324.06,1476.03 L324.03,1477.54 L324.01,1479.05 L323.99,1480.57 L323.98,1482.08 L323.96,1483.59 L323.94,1485.11 L323.92,1486.62 L323.90,1488.14 L323.89,1489.65 L323.87,1491.16 L323.86,1492.68 L323.84,1494.19 L323.83,1495.70 L323.81,1497.22 L323.80,1498.73 L323.79,1500.24 L323.78,1501.76 L323.77,1503.27 L323.76,1504.78 L323.75,1506.30 L323.74,1507.81 L323.73,1509.32 L323.72,1510.84 L323.71,1512.35 L323.70,1513.86 L323.69,1515.38 L323.69,1516.89 L323.68,1518.41 L323.68,1519.92 L323.67,1521.43 L323.67,1522.95 L323.66,1524.46 L323.66,1525.97 L323.65,1527.49 L323.65,1529.00 L323.65,1530.50 L323.64,1532.00 L323.64,1533.50 L323.64,1535.00 L323.64,1536.50 L323.64,1538.00 L323.63,1539.50 L323.63,1541.00 L323.63,1542.50 L323.63,1544.00 L323.63,1545.50 L323.63,1547.00 L323.63,1548.50 L323.62,1550.00 L323.62,1551.50 L323.62,1553.00 L323.62,1554.50 L323.62,1556.00 L323.62,1557.50 L323.62,1559.00 L323.62,1560.50 L323.61,1562.00 L323.61,1563.50 L323.61,1565.00 L323.61,1566.50 L323.61,1568.00 L323.61,1569.50 L323.60,1571.00 L323.60,1572.50 L323.60,1574.00 L323.60,1575.52 L323.59,1577.05 L323.59,1578.57 L323.59,1580.10 L323.58,1581.62 L323.58,1583.14 L323.57,1584.67 L323.57,1586.19 L323.56,1587.71 L323.56,1589.24 L323.55,1590.76 L323.55,1592.29 L323.54,1593.81 L323.53,1595.33 L323.53,1596.86 L323.52,1598.38 L323.51,1599.90 L323.51,1601.43 L323.50,1602.95 L323.49,1604.48 L323.49,1606.00 L323.48,1607.52 L323.47,1609.05 L323.47,1610.57 L323.46,1612.10 L323.46,1613.62 L323.45,1615.14 L323.44,1616.67 L323.44,1618.19 L323.43,1619.71 L323.43,1621.24 L323.42,1622.76 L323.42,1624.29 L323.42,1625.81 L323.41,1627.33 L323.41,1628.86 L323.41,1630.38 L323.40,1631.90 L323.40,1633.43 L323.40,1634.95 L323.40,1636.48 L323.40,1638.00 L323.41,1639.50 L323.45,1641.00 L323.51,1642.50 L323.59,1644.00 L323.68,1645.50 L323.80,1647.00 L323.92,1648.50 L324.06,1650.00 L324.22,1651.50 L324.38,1653.00 L324.55,1654.50 L324.72,1656.00 L324.90,1657.50 L325.08,1659.00 L325.27,1660.50 L325.45,1662.00 L325.63,1663.50 L325.80,1665.00 L325.98,1666.50 L326.18,1668.00 L326.40,1669.50 L326.62,1671.00 L326.86,1672.50 L327.10,1674.00 L327.35,1675.50 L327.59,1677.00 L327.83,1678.50 L328.07,1680.00 L328.29,1681.50 L328.50,1683.00 L328.70,1684.53 L328.90,1686.06 L329.10,1687.58 L329.29,1689.11 L329.48,1690.64 L329.67,1692.17 L329.85,1693.69 L330.04,1695.22 L330.22,1696.75 L330.40,1698.28 L330.57,1699.81 L330.75,1701.33 L330.92,1702.86 L331.09,1704.39 L331.26,1705.92 L331.43,1707.44 L331.60,1708.97 L331.77,1710.50 L331.94,1712.03 L332.11,1713.56 L332.28,1715.08 L332.44,1716.61 L332.61,1718.14 L332.78,1719.67 L332.95,1721.19 L333.12,1722.72 L333.29,1724.25 L333.46,1725.78 L333.64,1727.31 L333.81,1728.83 L333.99,1730.36 L334.16,1731.89 L334.35,1733.42 L334.53,1734.94 L334.71,1736.47 L334.90,1738.00 L335.09,1739.50 L335.28,1741.00 L335.49,1742.50 L335.69,1744.00 L335.90,1745.50 L336.12,1747.00 L336.34,1748.50 L336.56,1750.00 L336.78,1751.50 L337.01,1753.00 L337.24,1754.50 L337.46,1756.00 L337.69,1757.50 L337.91,1759.00 L338.13,1760.50 L338.35,1762.00 L338.57,1763.50 L338.78,1765.00 L338.99,1766.50 L339.20,1768.00 L339.39,1769.50 L339.58,1771.00 L339.77,1772.50 L339.94,1774.00 L340.11,1775.50 L340.27,1777.00 L340.42,1778.50 L340.56,1780.00 L340.68,1781.50 L340.80,1783.00 L340.91,1784.55 L341.01,1786.09 L341.11,1787.64 L341.20,1789.19 L341.29,1790.74 L341.37,1792.28 L341.45,1793.83 L341.53,1795.38 L341.60,1796.92 L341.68,1798.47 L341.75,1800.02 L341.82,1801.56 L341.89,1803.11 L341.97,1804.66 L342.04,1806.21 L342.12,1807.75 L342.20,1809.30 L256.40,1809.30 L256.48,1807.75 L256.56,1806.21 L256.63,1804.66 L256.71,1803.11 L256.78,1801.56 L256.85,1800.02 L256.92,1798.47 L257.00,1796.92 L257.07,1795.38 L257.15,1793.83 L257.23,1792.28 L257.31,1790.74 L257.40,1789.19 L257.49,1787.64 L257.59,1786.09 L257.69,1784.55 L257.80,1783.00 L257.92,1781.50 L258.04,1780.00 L258.18,1778.50 L258.33,1777.00 L258.49,1775.50 L258.66,1774.00 L258.83,1772.50 L259.02,1771.00 L259.21,1769.50 L259.40,1768.00 L259.61,1766.50 L259.82,1765.00 L260.03,1763.50 L260.25,1762.00 L260.47,1760.50 L260.69,1759.00 L260.91,1757.50 L261.14,1756.00 L261.36,1754.50 L261.59,1753.00 L261.82,1751.50 L262.04,1750.00 L262.26,1748.50 L262.48,1747.00 L262.70,1745.50 L262.91,1744.00 L263.11,1742.50 L263.32,1741.00 L263.51,1739.50 L263.70,1738.00 L263.89,1736.47 L264.07,1734.94 L264.25,1733.42 L264.44,1731.89 L264.61,1730.36 L264.79,1728.83 L264.96,1727.31 L265.14,1725.78 L265.31,1724.25 L265.48,1722.72 L265.65,1721.19 L265.82,1719.67 L265.99,1718.14 L266.16,1716.61 L266.32,1715.08 L266.49,1713.56 L266.66,1712.03 L266.83,1710.50 L267.00,1708.97 L267.17,1707.44 L267.34,1705.92 L267.51,1704.39 L267.68,1702.86 L267.85,1701.33 L268.03,1699.81 L268.20,1698.28 L268.38,1696.75 L268.56,1695.22 L268.75,1693.69 L268.93,1692.17 L269.12,1690.64 L269.31,1689.11 L269.50,1687.58 L269.70,1686.06 L269.90,1684.53 L270.10,1683.00 L270.31,1681.50 L270.53,1680.00 L270.77,1678.50 L271.01,1677.00 L271.25,1675.50 L271.50,1674.00 L271.74,1672.50 L271.98,1671.00 L272.20,1669.50 L272.42,1668.00 L272.62,1666.50 L272.80,1665.00 L272.97,1663.50 L273.15,1662.00 L273.33,1660.50 L273.52,1659.00 L273.70,1657.50 L273.88,1656.00 L274.05,1654.50 L274.22,1653.00 L274.38,1651.50 L274.54,1650.00 L274.68,1648.50 L274.80,1647.00 L274.92,1645.50 L275.01,1644.00 L275.09,1642.50 L275.15,1641.00 L275.19,1639.50 L275.20,1638.00 L275.20,1636.48 L275.20,1634.95 L275.20,1633.43 L275.20,1631.90 L275.19,1630.38 L275.19,1628.86 L275.19,1627.33 L275.18,1625.81 L275.18,1624.29 L275.18,1622.76 L275.17,1621.24 L275.17,1619.71 L275.16,1618.19 L275.16,1616.67 L275.15,1615.14 L275.14,1613.62 L275.14,1612.10 L275.13,1610.57 L275.13,1609.05 L275.12,1607.52 L275.11,1606.00 L275.11,1604.48 L275.10,1602.95 L275.09,1601.43 L275.09,1599.90 L275.08,1598.38 L275.07,1596.86 L275.07,1595.33 L275.06,1593.81 L275.05,1592.29 L275.05,1590.76 L275.04,1589.24 L275.04,1587.71 L275.03,1586.19 L275.03,1584.67 L275.02,1583.14 L275.02,1581.62 L275.01,1580.10 L275.01,1578.57 L275.01,1577.05 L275.00,1575.52 L275.00,1574.00 L275.00,1572.50 L275.00,1571.00 L274.99,1569.50 L274.99,1568.00 L274.99,1566.50 L274.99,1565.00 L274.99,1563.50 L274.99,1562.00 L274.98,1560.50 L274.98,1559.00 L274.98,1557.50 L274.98,1556.00 L274.98,1554.50 L274.98,1553.00 L274.98,1551.50 L274.98,1550.00 L274.97,1548.50 L274.97,1547.00 L274.97,1545.50 L274.97,1544.00 L274.97,1542.50 L274.97,1541.00 L274.97,1539.50 L274.96,1538.00 L274.96,1536.50 L274.96,1535.00 L274.96,1533.50 L274.96,1532.00 L274.95,1530.50 L274.95,1529.00 L274.95,1527.49 L274.94,1525.97 L274.94,1524.46 L274.93,1522.95 L274.93,1521.43 L274.92,1519.92 L274.92,1518.41 L274.91,1516.89 L274.91,1515.38 L274.90,1513.86 L274.89,1512.35 L274.88,1510.84 L274.87,1509.32 L274.86,1507.81 L274.85,1506.30 L274.84,1504.78 L274.83,1503.27 L274.82,1501.76 L274.81,1500.24 L274.80,1498.73 L274.79,1497.22 L274.77,1495.70 L274.76,1494.19 L274.74,1492.68 L274.73,1491.16 L274.71,1489.65 L274.70,1488.14 L274.68,1486.62 L274.66,1485.11 L274.64,1483.59 L274.62,1482.08 L274.61,1480.57 L274.59,1479.05 L274.57,1477.54 L274.54,1476.03 L274.52,1474.51 L274.50,1473.00 L274.47,1471.50 L274.44,1470.00 L274.40,1468.50 L274.35,1467.00 L274.29,1465.50 L274.23,1464.00 L274.16,1462.50 L274.09,1461.00 L274.01,1459.50 L273.93,1458.00 L273.84,1456.50 L273.75,1455.00 L273.65,1453.50 L273.55,1452.00 L273.45,1450.50 L273.35,1449.00 L273.24,1447.50 L273.14,1446.00 L273.03,1444.50 L272.92,1443.00 L272.81,1441.50 L272.70,1440.00 L272.58,1438.45 L272.46,1436.90 L272.32,1435.36 L272.18,1433.81 L272.03,1432.26 L271.87,1430.71 L271.71,1429.17 L271.54,1427.62 L271.37,1426.07 L271.19,1424.52 L271.01,1422.98 L270.82,1421.43 L270.63,1419.88 L270.44,1418.33 L270.25,1416.79 L270.06,1415.24 L269.87,1413.69 L269.67,1412.14 L269.48,1410.60 L269.29,1409.05 L269.10,1407.50 L268.91,1405.95 L268.72,1404.40 L268.52,1402.86 L268.32,1401.31 L268.12,1399.76 L267.91,1398.21 L267.70,1396.67 L267.49,1395.12 L267.28,1393.57 L267.07,1392.02 L266.86,1390.48 L266.64,1388.93 L266.43,1387.38 L266.21,1385.83 L265.99,1384.29 L265.78,1382.74 L265.56,1381.19 L265.34,1379.64 L265.13,1378.10 L264.91,1376.55 L264.70,1375.00 L264.49,1373.50 L264.28,1372.00 L264.05,1370.50 L263.83,1369.00 L263.60,1367.50 L263.37,1366.00 L263.14,1364.50 L262.91,1363.00 L262.68,1361.50 L262.45,1360.00 L262.22,1358.50 L261.99,1357.00 L261.77,1355.50 L261.55,1354.00 L261.34,1352.50 L261.14,1351.00 L260.94,1349.50 L260.75,1348.00 L260.57,1346.50 L260.40,1345.00 L260.25,1343.50 L260.10,1342.00 L259.96,1340.50 L259.83,1339.00 L259.71,1337.50 L259.58,1336.00 L259.47,1334.50 L259.35,1333.00 L259.24,1331.50 L259.14,1330.00 L259.03,1328.50 L258.93,1327.00 L258.83,1325.50 L258.74,1324.00 L258.64,1322.50 L258.55,1321.00 L258.45,1319.50 L258.36,1318.00 L258.27,1316.50 L258.18,1315.00 L258.08,1313.50 L257.99,1312.00 L257.90,1310.50 L257.80,1309.00 L257.70,1307.44 L257.60,1305.89 L257.50,1304.33 L257.41,1302.78 L257.31,1301.22 L257.22,1299.67 L257.12,1298.11 L257.03,1296.56 L256.94,1295.00 L256.84,1293.44 L256.75,1291.89 L256.66,1290.33 L256.57,1288.78 L256.47,1287.22 L256.38,1285.67 L256.29,1284.11 L256.19,1282.56 L256.10,1281.00 Z" fill="none" stroke="#000" stroke-width="9.5" stroke-linejoin="round"/>
<circle cx="298.90" cy="1281.30" r="7.6" fill="#000"/>
<circle cx="325.90" cy="1281.30" r="7.6" fill="#000"/>
<circle cx="299.00" cy="1535.40" r="7.6" fill="#000"/>
<circle cx="326.20" cy="1797.70" r="7.6" fill="#000"/>
<circle cx="276.00" cy="1807.00" r="7.6" fill="#000"/>
<circle cx="299.00" cy="1808.00" r="7.6" fill="#000"/>
<path d="M439.00,1579.80 L438.95,1581.33 L438.91,1582.85 L438.88,1584.38 L438.84,1585.90 L438.79,1587.42 L438.74,1588.95 L438.68,1590.47 L438.60,1592.00 L438.44,1593.50 L438.14,1595.00 L437.74,1596.50 L437.26,1598.00 L436.71,1599.50 L436.14,1601.00 L435.55,1602.50 L434.98,1604.00 L434.46,1605.50 L434.00,1607.00 L433.56,1608.50 L433.07,1610.00 L432.57,1611.50 L432.06,1613.00 L431.58,1614.50 L431.14,1616.00 L430.76,1617.50 L430.46,1619.00 L430.27,1620.50 L430.20,1622.00 L430.20,1623.50 L430.20,1625.00 L430.20,1626.50 L430.20,1628.00 L430.20,1629.50 L430.20,1631.00 L430.20,1632.50 L430.20,1634.00 L430.20,1635.50 L430.20,1637.00 L430.20,1638.50 L430.20,1640.00 L430.20,1641.50 L430.20,1643.00 L430.20,1644.50 L430.20,1646.00 L430.20,1647.50 L430.20,1649.00 L430.20,1650.50 L430.20,1652.00 L430.25,1653.50 L430.40,1655.00 L430.65,1656.50 L430.98,1658.00 L431.38,1659.50 L431.86,1661.00 L432.40,1662.50 L432.99,1664.00 L433.63,1665.50 L434.31,1667.00 L435.03,1668.50 L435.76,1670.00 L436.52,1671.50 L437.29,1673.00 L438.05,1674.50 L438.82,1676.00 L439.57,1677.50 L440.30,1679.00 L441.00,1680.50 L441.67,1682.00 L442.30,1683.50 L442.88,1685.00 L443.40,1686.50 L443.88,1688.00 L444.35,1689.50 L444.80,1691.00 L445.24,1692.50 L445.67,1694.00 L446.10,1695.50 L446.51,1697.00 L446.92,1698.50 L447.33,1700.00 L447.73,1701.50 L448.13,1703.00 L448.53,1704.50 L448.93,1706.00 L449.34,1707.50 L449.75,1709.00 L450.17,1710.50 L450.59,1712.00 L451.03,1713.50 L451.47,1715.00 L451.93,1716.50 L452.40,1718.00 L452.90,1719.52 L453.43,1721.05 L453.97,1722.57 L454.54,1724.10 L455.12,1725.62 L455.72,1727.14 L456.32,1728.67 L456.93,1730.19 L457.54,1731.71 L458.16,1733.24 L458.77,1734.76 L459.37,1736.29 L459.96,1737.81 L460.55,1739.33 L461.11,1740.86 L461.66,1742.38 L462.18,1743.90 L462.68,1745.43 L463.15,1746.95 L463.59,1748.48 L464.00,1750.00 L464.41,1751.57 L464.83,1753.13 L465.25,1754.70 L465.68,1756.27 L466.10,1757.83 L466.51,1759.40 L466.91,1760.97 L467.28,1762.53 L467.62,1764.10 L467.92,1765.67 L468.19,1767.23 L468.40,1768.80 L468.56,1770.37 L468.66,1771.93 L468.70,1773.50 L468.68,1775.07 L468.62,1776.63 L468.53,1778.20 L468.40,1779.77 L468.25,1781.33 L468.06,1782.90 L467.85,1784.47 L467.62,1786.03 L467.36,1787.60 L467.08,1789.17 L466.79,1790.73 L466.48,1792.30 L466.17,1793.87 L465.84,1795.43 L465.50,1797.00 L465.07,1798.62 L464.50,1800.25 L463.83,1801.88 L463.09,1803.50 L462.30,1805.12 L461.50,1806.75 L460.72,1808.38 L460.00,1810.00 L392.00,1810.00 L391.28,1808.38 L390.50,1806.75 L389.70,1805.12 L388.91,1803.50 L388.17,1801.88 L387.50,1800.25 L386.93,1798.62 L386.50,1797.00 L386.16,1795.43 L385.83,1793.87 L385.52,1792.30 L385.21,1790.73 L384.92,1789.17 L384.64,1787.60 L384.38,1786.03 L384.15,1784.47 L383.94,1782.90 L383.75,1781.33 L383.60,1779.77 L383.47,1778.20 L383.38,1776.63 L383.32,1775.07 L383.30,1773.50 L383.34,1771.93 L383.44,1770.37 L383.60,1768.80 L383.81,1767.23 L384.08,1765.67 L384.38,1764.10 L384.72,1762.53 L385.09,1760.97 L385.49,1759.40 L385.90,1757.83 L386.32,1756.27 L386.75,1754.70 L387.17,1753.13 L387.59,1751.57 L388.00,1750.00 L388.41,1748.48 L388.85,1746.95 L389.32,1745.43 L389.82,1743.90 L390.34,1742.38 L390.89,1740.86 L391.45,1739.33 L392.04,1737.81 L392.63,1736.29 L393.23,1734.76 L393.84,1733.24 L394.46,1731.71 L395.07,1730.19 L395.68,1728.67 L396.28,1727.14 L396.88,1725.62 L397.46,1724.10 L398.03,1722.57 L398.57,1721.05 L399.10,1719.52 L399.60,1718.00 L400.07,1716.50 L400.53,1715.00 L400.97,1713.50 L401.41,1712.00 L401.83,1710.50 L402.25,1709.00 L402.66,1707.50 L403.07,1706.00 L403.47,1704.50 L403.87,1703.00 L404.27,1701.50 L404.67,1700.00 L405.08,1698.50 L405.49,1697.00 L405.90,1695.50 L406.33,1694.00 L406.76,1692.50 L407.20,1691.00 L407.65,1689.50 L408.12,1688.00 L408.60,1686.50 L409.12,1685.00 L409.70,1683.50 L410.33,1682.00 L411.00,1680.50 L411.70,1679.00 L412.43,1677.50 L413.18,1676.00 L413.95,1674.50 L414.71,1673.00 L415.48,1671.50 L416.24,1670.00 L416.97,1668.50 L417.69,1667.00 L418.37,1665.50 L419.01,1664.00 L419.60,1662.50 L420.14,1661.00 L420.62,1659.50 L421.02,1658.00 L421.35,1656.50 L421.60,1655.00 L421.75,1653.50 L421.80,1652.00 L421.80,1650.50 L421.80,1649.00 L421.80,1647.50 L421.80,1646.00 L421.80,1644.50 L421.80,1643.00 L421.80,1641.50 L421.80,1640.00 L421.80,1638.50 L421.80,1637.00 L421.80,1635.50 L421.80,1634.00 L421.80,1632.50 L421.80,1631.00 L421.80,1629.50 L421.80,1628.00 L421.80,1626.50 L421.80,1625.00 L421.80,1623.50 L421.80,1622.00 L421.73,1620.50 L421.54,1619.00 L421.24,1617.50 L420.86,1616.00 L420.42,1614.50 L419.94,1613.00 L419.43,1611.50 L418.93,1610.00 L418.44,1608.50 L418.00,1607.00 L417.54,1605.50 L417.02,1604.00 L416.45,1602.50 L415.86,1601.00 L415.29,1599.50 L414.74,1598.00 L414.26,1596.50 L413.86,1595.00 L413.56,1593.50 L413.40,1592.00 L413.32,1590.47 L413.26,1588.95 L413.21,1587.42 L413.16,1585.90 L413.12,1584.38 L413.09,1582.85 L413.05,1581.33 L413.00,1579.80 Z" fill="#fff" stroke="none"/>
<line x1="392.56" y1="1800.40" x2="459.44" y2="1800.40" stroke="#000" stroke-width="3.6" stroke-dasharray="0.1 10.3" stroke-linecap="round"/>
<line x1="386.58" y1="1755.30" x2="465.42" y2="1755.30" stroke="#000" stroke-width="8.5"/>
<path d="M439.00,1579.80 L438.95,1581.33 L438.91,1582.85 L438.88,1584.38 L438.84,1585.90 L438.79,1587.42 L438.74,1588.95 L438.68,1590.47 L438.60,1592.00 L438.44,1593.50 L438.14,1595.00 L437.74,1596.50 L437.26,1598.00 L436.71,1599.50 L436.14,1601.00 L435.55,1602.50 L434.98,1604.00 L434.46,1605.50 L434.00,1607.00 L433.56,1608.50 L433.07,1610.00 L432.57,1611.50 L432.06,1613.00 L431.58,1614.50 L431.14,1616.00 L430.76,1617.50 L430.46,1619.00 L430.27,1620.50 L430.20,1622.00 L430.20,1623.50 L430.20,1625.00 L430.20,1626.50 L430.20,1628.00 L430.20,1629.50 L430.20,1631.00 L430.20,1632.50 L430.20,1634.00 L430.20,1635.50 L430.20,1637.00 L430.20,1638.50 L430.20,1640.00 L430.20,1641.50 L430.20,1643.00 L430.20,1644.50 L430.20,1646.00 L430.20,1647.50 L430.20,1649.00 L430.20,1650.50 L430.20,1652.00 L430.25,1653.50 L430.40,1655.00 L430.65,1656.50 L430.98,1658.00 L431.38,1659.50 L431.86,1661.00 L432.40,1662.50 L432.99,1664.00 L433.63,1665.50 L434.31,1667.00 L435.03,1668.50 L435.76,1670.00 L436.52,1671.50 L437.29,1673.00 L438.05,1674.50 L438.82,1676.00 L439.57,1677.50 L440.30,1679.00 L441.00,1680.50 L441.67,1682.00 L442.30,1683.50 L442.88,1685.00 L443.40,1686.50 L443.88,1688.00 L444.35,1689.50 L444.80,1691.00 L445.24,1692.50 L445.67,1694.00 L446.10,1695.50 L446.51,1697.00 L446.92,1698.50 L447.33,1700.00 L447.73,1701.50 L448.13,1703.00 L448.53,1704.50 L448.93,1706.00 L449.34,1707.50 L449.75,1709.00 L450.17,1710.50 L450.59,1712.00 L451.03,1713.50 L451.47,1715.00 L451.93,1716.50 L452.40,1718.00 L452.90,1719.52 L453.43,1721.05 L453.97,1722.57 L454.54,1724.10 L455.12,1725.62 L455.72,1727.14 L456.32,1728.67 L456.93,1730.19 L457.54,1731.71 L458.16,1733.24 L458.77,1734.76 L459.37,1736.29 L459.96,1737.81 L460.55,1739.33 L461.11,1740.86 L461.66,1742.38 L462.18,1743.90 L462.68,1745.43 L463.15,1746.95 L463.59,1748.48 L464.00,1750.00 L464.41,1751.57 L464.83,1753.13 L465.25,1754.70 L465.68,1756.27 L466.10,1757.83 L466.51,1759.40 L466.91,1760.97 L467.28,1762.53 L467.62,1764.10 L467.92,1765.67 L468.19,1767.23 L468.40,1768.80 L468.56,1770.37 L468.66,1771.93 L468.70,1773.50 L468.68,1775.07 L468.62,1776.63 L468.53,1778.20 L468.40,1779.77 L468.25,1781.33 L468.06,1782.90 L467.85,1784.47 L467.62,1786.03 L467.36,1787.60 L467.08,1789.17 L466.79,1790.73 L466.48,1792.30 L466.17,1793.87 L465.84,1795.43 L465.50,1797.00 L465.07,1798.62 L464.50,1800.25 L463.83,1801.88 L463.09,1803.50 L462.30,1805.12 L461.50,1806.75 L460.72,1808.38 L460.00,1810.00 L392.00,1810.00 L391.28,1808.38 L390.50,1806.75 L389.70,1805.12 L388.91,1803.50 L388.17,1801.88 L387.50,1800.25 L386.93,1798.62 L386.50,1797.00 L386.16,1795.43 L385.83,1793.87 L385.52,1792.30 L385.21,1790.73 L384.92,1789.17 L384.64,1787.60 L384.38,1786.03 L384.15,1784.47 L383.94,1782.90 L383.75,1781.33 L383.60,1779.77 L383.47,1778.20 L383.38,1776.63 L383.32,1775.07 L383.30,1773.50 L383.34,1771.93 L383.44,1770.37 L383.60,1768.80 L383.81,1767.23 L384.08,1765.67 L384.38,1764.10 L384.72,1762.53 L385.09,1760.97 L385.49,1759.40 L385.90,1757.83 L386.32,1756.27 L386.75,1754.70 L387.17,1753.13 L387.59,1751.57 L388.00,1750.00 L388.41,1748.48 L388.85,1746.95 L389.32,1745.43 L389.82,1743.90 L390.34,1742.38 L390.89,1740.86 L391.45,1739.33 L392.04,1737.81 L392.63,1736.29 L393.23,1734.76 L393.84,1733.24 L394.46,1731.71 L395.07,1730.19 L395.68,1728.67 L396.28,1727.14 L396.88,1725.62 L397.46,1724.10 L398.03,1722.57 L398.57,1721.05 L399.10,1719.52 L399.60,1718.00 L400.07,1716.50 L400.53,1715.00 L400.97,1713.50 L401.41,1712.00 L401.83,1710.50 L402.25,1709.00 L402.66,1707.50 L403.07,1706.00 L403.47,1704.50 L403.87,1703.00 L404.27,1701.50 L404.67,1700.00 L405.08,1698.50 L405.49,1697.00 L405.90,1695.50 L406.33,1694.00 L406.76,1692.50 L407.20,1691.00 L407.65,1689.50 L408.12,1688.00 L408.60,1686.50 L409.12,1685.00 L409.70,1683.50 L410.33,1682.00 L411.00,1680.50 L411.70,1679.00 L412.43,1677.50 L413.18,1676.00 L413.95,1674.50 L414.71,1673.00 L415.48,1671.50 L416.24,1670.00 L416.97,1668.50 L417.69,1667.00 L418.37,1665.50 L419.01,1664.00 L419.60,1662.50 L420.14,1661.00 L420.62,1659.50 L421.02,1658.00 L421.35,1656.50 L421.60,1655.00 L421.75,1653.50 L421.80,1652.00 L421.80,1650.50 L421.80,1649.00 L421.80,1647.50 L421.80,1646.00 L421.80,1644.50 L421.80,1643.00 L421.80,1641.50 L421.80,1640.00 L421.80,1638.50 L421.80,1637.00 L421.80,1635.50 L421.80,1634.00 L421.80,1632.50 L421.80,1631.00 L421.80,1629.50 L421.80,1628.00 L421.80,1626.50 L421.80,1625.00 L421.80,1623.50 L421.80,1622.00 L421.73,1620.50 L421.54,1619.00 L421.24,1617.50 L420.86,1616.00 L420.42,1614.50 L419.94,1613.00 L419.43,1611.50 L418.93,1610.00 L418.44,1608.50 L418.00,1607.00 L417.54,1605.50 L417.02,1604.00 L416.45,1602.50 L415.86,1601.00 L415.29,1599.50 L414.74,1598.00 L414.26,1596.50 L413.86,1595.00 L413.56,1593.50 L413.40,1592.00 L413.32,1590.47 L413.26,1588.95 L413.21,1587.42 L413.16,1585.90 L413.12,1584.38 L413.09,1582.85 L413.05,1581.33 L413.00,1579.80 Z" fill="none" stroke="#000" stroke-width="9.5" stroke-linejoin="round"/>
<rect x="418.10" y="1573.50" width="15" height="15" rx="2" fill="#000"/>
<rect x="418.10" y="1683.80" width="15" height="15" rx="2" fill="#000"/>
<rect x="445.80" y="1734.40" width="15" height="15" rx="2" fill="#000"/>
<rect x="418.10" y="1747.00" width="15" height="15" rx="2" fill="#000"/>
<rect x="418.10" y="1773.10" width="15" height="15" rx="2" fill="#000"/>
<rect x="445.80" y="1792.90" width="15" height="15" rx="2" fill="#000"/>
<rect x="390.50" y="1804.50" width="15" height="15" rx="2" fill="#000"/>
<rect x="418.50" y="1804.50" width="15" height="15" rx="2" fill="#000"/>
<rect x="444.50" y="1804.50" width="15" height="15" rx="2" fill="#000"/>
<path d="M641.50,1714.80 L641.26,1716.35 L641.02,1717.90 L640.77,1719.45 L640.50,1721.00 L640.22,1722.50 L639.95,1724.00 L639.67,1725.50 L639.37,1727.00 L639.06,1728.50 L638.71,1730.00 L638.31,1731.50 L637.87,1733.00 L637.37,1734.50 L636.80,1736.00 L635.91,1737.55 L634.59,1739.10 L633.02,1740.65 L631.36,1742.20 L629.76,1743.75 L628.40,1745.30 L626.97,1747.03 L625.43,1748.77 L623.95,1750.50 L622.70,1752.23 L621.83,1753.97 L621.50,1755.70 L621.74,1757.42 L622.38,1759.13 L623.30,1760.85 L624.41,1762.57 L625.58,1764.28 L626.70,1766.00 L627.87,1767.73 L629.19,1769.47 L630.62,1771.20 L632.10,1772.93 L633.57,1774.67 L635.00,1776.40 L636.30,1777.97 L637.66,1779.55 L639.07,1781.12 L640.49,1782.69 L641.91,1784.26 L643.29,1785.84 L644.61,1787.41 L645.85,1788.98 L646.98,1790.55 L647.97,1792.13 L648.80,1793.70 L649.55,1795.27 L650.30,1796.85 L651.04,1798.42 L651.75,1799.99 L652.41,1801.56 L653.01,1803.14 L653.54,1804.71 L653.98,1806.28 L654.32,1807.85 L654.53,1809.43 L654.60,1811.00 L654.57,1812.53 L654.47,1814.07 L654.32,1815.60 L654.12,1817.13 L653.87,1818.67 L653.58,1820.20 L653.25,1821.73 L652.90,1823.27 L652.52,1824.80 L652.12,1826.33 L651.70,1827.87 L651.28,1829.40 L650.85,1830.93 L650.42,1832.47 L650.00,1834.00 L649.53,1835.59 L649.00,1837.18 L648.42,1838.77 L647.79,1840.36 L647.12,1841.95 L646.44,1843.55 L645.74,1845.14 L645.03,1846.73 L644.33,1848.32 L643.65,1849.91 L643.00,1851.50 L579.00,1851.50 L578.35,1849.91 L577.67,1848.32 L576.97,1846.73 L576.26,1845.14 L575.56,1843.55 L574.88,1841.95 L574.21,1840.36 L573.58,1838.77 L573.00,1837.18 L572.47,1835.59 L572.00,1834.00 L571.58,1832.47 L571.15,1830.93 L570.72,1829.40 L570.30,1827.87 L569.88,1826.33 L569.48,1824.80 L569.10,1823.27 L568.75,1821.73 L568.42,1820.20 L568.13,1818.67 L567.88,1817.13 L567.68,1815.60 L567.53,1814.07 L567.43,1812.53 L567.40,1811.00 L567.47,1809.43 L567.68,1807.85 L568.02,1806.28 L568.46,1804.71 L568.99,1803.14 L569.59,1801.56 L570.25,1799.99 L570.96,1798.42 L571.70,1796.85 L572.45,1795.27 L573.20,1793.70 L574.03,1792.13 L575.02,1790.55 L576.15,1788.98 L577.39,1787.41 L578.71,1785.84 L580.09,1784.26 L581.51,1782.69 L582.93,1781.12 L584.34,1779.55 L585.70,1777.97 L587.00,1776.40 L588.43,1774.67 L589.90,1772.93 L591.38,1771.20 L592.81,1769.47 L594.13,1767.73 L595.30,1766.00 L596.42,1764.28 L597.59,1762.57 L598.70,1760.85 L599.62,1759.13 L600.26,1757.42 L600.50,1755.70 L600.17,1753.97 L599.30,1752.23 L598.05,1750.50 L596.57,1748.77 L595.03,1747.03 L593.60,1745.30 L592.24,1743.75 L590.64,1742.20 L588.98,1740.65 L587.41,1739.10 L586.09,1737.55 L585.20,1736.00 L584.63,1734.50 L584.13,1733.00 L583.69,1731.50 L583.29,1730.00 L582.94,1728.50 L582.63,1727.00 L582.33,1725.50 L582.05,1724.00 L581.78,1722.50 L581.50,1721.00 L581.23,1719.45 L580.98,1717.90 L580.74,1716.35 L580.50,1714.80 Z" fill="#d3d3d3" stroke="none"/>
<line x1="587.05" y1="1724.00" x2="634.95" y2="1724.00" stroke="#000" stroke-width="3.6" stroke-dasharray="0.1 10.3" stroke-linecap="round"/>
<line x1="578.99" y1="1839.80" x2="643.01" y2="1839.80" stroke="#000" stroke-width="3.6" stroke-dasharray="0.1 10.3" stroke-linecap="round"/>
<line x1="568.32" y1="1805.20" x2="653.68" y2="1805.20" stroke="#000" stroke-width="8.5"/>
<path d="M641.50,1714.80 L641.26,1716.35 L641.02,1717.90 L640.77,1719.45 L640.50,1721.00 L640.22,1722.50 L639.95,1724.00 L639.67,1725.50 L639.37,1727.00 L639.06,1728.50 L638.71,1730.00 L638.31,1731.50 L637.87,1733.00 L637.37,1734.50 L636.80,1736.00 L635.91,1737.55 L634.59,1739.10 L633.02,1740.65 L631.36,1742.20 L629.76,1743.75 L628.40,1745.30 L626.97,1747.03 L625.43,1748.77 L623.95,1750.50 L622.70,1752.23 L621.83,1753.97 L621.50,1755.70 L621.74,1757.42 L622.38,1759.13 L623.30,1760.85 L624.41,1762.57 L625.58,1764.28 L626.70,1766.00 L627.87,1767.73 L629.19,1769.47 L630.62,1771.20 L632.10,1772.93 L633.57,1774.67 L635.00,1776.40 L636.30,1777.97 L637.66,1779.55 L639.07,1781.12 L640.49,1782.69 L641.91,1784.26 L643.29,1785.84 L644.61,1787.41 L645.85,1788.98 L646.98,1790.55 L647.97,1792.13 L648.80,1793.70 L649.55,1795.27 L650.30,1796.85 L651.04,1798.42 L651.75,1799.99 L652.41,1801.56 L653.01,1803.14 L653.54,1804.71 L653.98,1806.28 L654.32,1807.85 L654.53,1809.43 L654.60,1811.00 L654.57,1812.53 L654.47,1814.07 L654.32,1815.60 L654.12,1817.13 L653.87,1818.67 L653.58,1820.20 L653.25,1821.73 L652.90,1823.27 L652.52,1824.80 L652.12,1826.33 L651.70,1827.87 L651.28,1829.40 L650.85,1830.93 L650.42,1832.47 L650.00,1834.00 L649.53,1835.59 L649.00,1837.18 L648.42,1838.77 L647.79,1840.36 L647.12,1841.95 L646.44,1843.55 L645.74,1845.14 L645.03,1846.73 L644.33,1848.32 L643.65,1849.91 L643.00,1851.50 L579.00,1851.50 L578.35,1849.91 L577.67,1848.32 L576.97,1846.73 L576.26,1845.14 L575.56,1843.55 L574.88,1841.95 L574.21,1840.36 L573.58,1838.77 L573.00,1837.18 L572.47,1835.59 L572.00,1834.00 L571.58,1832.47 L571.15,1830.93 L570.72,1829.40 L570.30,1827.87 L569.88,1826.33 L569.48,1824.80 L569.10,1823.27 L568.75,1821.73 L568.42,1820.20 L568.13,1818.67 L567.88,1817.13 L567.68,1815.60 L567.53,1814.07 L567.43,1812.53 L567.40,1811.00 L567.47,1809.43 L567.68,1807.85 L568.02,1806.28 L568.46,1804.71 L568.99,1803.14 L569.59,1801.56 L570.25,1799.99 L570.96,1798.42 L571.70,1796.85 L572.45,1795.27 L573.20,1793.70 L574.03,1792.13 L575.02,1790.55 L576.15,1788.98 L577.39,1787.41 L578.71,1785.84 L580.09,1784.26 L581.51,1782.69 L582.93,1781.12 L584.34,1779.55 L585.70,1777.97 L587.00,1776.40 L588.43,1774.67 L589.90,1772.93 L591.38,1771.20 L592.81,1769.47 L594.13,1767.73 L595.30,1766.00 L596.42,1764.28 L597.59,1762.57 L598.70,1760.85 L599.62,1759.13 L600.26,1757.42 L600.50,1755.70 L600.17,1753.97 L599.30,1752.23 L598.05,1750.50 L596.57,1748.77 L595.03,1747.03 L593.60,1745.30 L592.24,1743.75 L590.64,1742.20 L588.98,1740.65 L587.41,1739.10 L586.09,1737.55 L585.20,1736.00 L584.63,1734.50 L584.13,1733.00 L583.69,1731.50 L583.29,1730.00 L582.94,1728.50 L582.63,1727.00 L582.33,1725.50 L582.05,1724.00 L581.78,1722.50 L581.50,1721.00 L581.23,1719.45 L580.98,1717.90 L580.74,1716.35 L580.50,1714.80 Z" fill="none" stroke="#000" stroke-width="9.5" stroke-linejoin="round"/>
<circle cx="611.00" cy="1724.60" r="7.6" fill="#000"/>
<circle cx="611.00" cy="1785.60" r="7.6" fill="#000"/>
<circle cx="638.70" cy="1805.20" r="7.6" fill="#000"/>
<circle cx="611.00" cy="1814.40" r="7.6" fill="#000"/>
<circle cx="611.00" cy="1839.80" r="7.6" fill="#000"/>
<circle cx="585.00" cy="1714.00" r="7.6" fill="#000"/>
<path d="M765.80,1664.60 L765.50,1666.20 L765.22,1667.80 L764.96,1669.40 L764.69,1671.00 L764.41,1672.60 L764.11,1674.20 L763.79,1675.80 L763.42,1677.40 L763.00,1679.00 L762.50,1680.53 L761.88,1682.07 L761.16,1683.60 L760.35,1685.13 L759.48,1686.67 L758.57,1688.20 L757.63,1689.73 L756.69,1691.27 L755.77,1692.80 L754.88,1694.33 L754.05,1695.87 L753.30,1697.40 L752.60,1698.91 L751.90,1700.42 L751.21,1701.93 L750.52,1703.44 L749.85,1704.95 L749.20,1706.45 L748.58,1707.96 L747.99,1709.47 L747.45,1710.98 L746.95,1712.49 L746.50,1714.00 L746.04,1715.62 L745.57,1717.24 L745.11,1718.86 L744.66,1720.48 L744.24,1722.10 L743.87,1723.72 L743.55,1725.34 L743.31,1726.96 L743.15,1728.58 L743.10,1730.20 L743.14,1731.73 L743.27,1733.25 L743.46,1734.78 L743.72,1736.31 L744.03,1737.84 L744.39,1739.36 L744.78,1740.89 L745.19,1742.42 L745.62,1743.95 L746.06,1745.47 L746.50,1747.00 L747.00,1748.60 L747.60,1750.20 L748.27,1751.80 L749.01,1753.40 L749.80,1755.00 L750.62,1756.60 L751.47,1758.20 L752.32,1759.80 L753.17,1761.40 L754.00,1763.00 L754.80,1764.55 L755.62,1766.09 L756.46,1767.64 L757.31,1769.18 L758.18,1770.73 L759.05,1772.27 L759.94,1773.82 L760.83,1775.36 L761.72,1776.91 L762.61,1778.45 L763.50,1780.00 L764.41,1781.55 L765.38,1783.09 L766.37,1784.64 L767.38,1786.18 L768.39,1787.73 L769.38,1789.27 L770.33,1790.82 L771.24,1792.36 L772.08,1793.91 L772.84,1795.45 L773.50,1797.00 L774.13,1798.58 L774.77,1800.16 L775.41,1801.75 L776.04,1803.33 L776.63,1804.91 L777.16,1806.49 L777.64,1808.07 L778.04,1809.65 L778.34,1811.24 L778.53,1812.82 L778.60,1814.40 L778.56,1815.99 L778.44,1817.58 L778.26,1819.16 L778.01,1820.75 L777.70,1822.34 L777.34,1823.92 L776.93,1825.51 L776.48,1827.10 L776.00,1828.69 L775.48,1830.28 L774.95,1831.86 L774.39,1833.45 L773.82,1835.04 L773.25,1836.62 L772.67,1838.21 L772.10,1839.80 L771.49,1841.33 L770.76,1842.87 L769.97,1844.40 L769.13,1845.93 L768.30,1847.47 L767.50,1849.00 L703.50,1849.00 L702.70,1847.47 L701.87,1845.93 L701.03,1844.40 L700.24,1842.87 L699.51,1841.33 L698.90,1839.80 L698.33,1838.21 L697.75,1836.62 L697.18,1835.04 L696.61,1833.45 L696.05,1831.86 L695.52,1830.28 L695.00,1828.69 L694.52,1827.10 L694.07,1825.51 L693.66,1823.92 L693.30,1822.34 L692.99,1820.75 L692.74,1819.16 L692.56,1817.58 L692.44,1815.99 L692.40,1814.40 L692.47,1812.82 L692.66,1811.24 L692.96,1809.65 L693.36,1808.07 L693.84,1806.49 L694.37,1804.91 L694.96,1803.33 L695.59,1801.75 L696.23,1800.16 L696.87,1798.58 L697.50,1797.00 L698.16,1795.45 L698.92,1793.91 L699.76,1792.36 L700.67,1790.82 L701.62,1789.27 L702.61,1787.73 L703.62,1786.18 L704.63,1784.64 L705.62,1783.09 L706.59,1781.55 L707.50,1780.00 L708.39,1778.45 L709.28,1776.91 L710.17,1775.36 L711.06,1773.82 L711.95,1772.27 L712.82,1770.73 L713.69,1769.18 L714.54,1767.64 L715.38,1766.09 L716.20,1764.55 L717.00,1763.00 L717.83,1761.40 L718.68,1759.80 L719.53,1758.20 L720.38,1756.60 L721.20,1755.00 L721.99,1753.40 L722.73,1751.80 L723.40,1750.20 L724.00,1748.60 L724.50,1747.00 L724.94,1745.47 L725.38,1743.95 L725.81,1742.42 L726.22,1740.89 L726.61,1739.36 L726.97,1737.84 L727.28,1736.31 L727.54,1734.78 L727.73,1733.25 L727.86,1731.73 L727.90,1730.20 L727.85,1728.58 L727.69,1726.96 L727.45,1725.34 L727.13,1723.72 L726.76,1722.10 L726.34,1720.48 L725.89,1718.86 L725.43,1717.24 L724.96,1715.62 L724.50,1714.00 L724.05,1712.49 L723.55,1710.98 L723.01,1709.47 L722.42,1707.96 L721.80,1706.45 L721.15,1704.95 L720.48,1703.44 L719.79,1701.93 L719.10,1700.42 L718.40,1698.91 L717.70,1697.40 L716.95,1695.87 L716.12,1694.33 L715.23,1692.80 L714.31,1691.27 L713.37,1689.73 L712.43,1688.20 L711.52,1686.67 L710.65,1685.13 L709.84,1683.60 L709.12,1682.07 L708.50,1680.53 L708.00,1679.00 L707.58,1677.40 L707.21,1675.80 L706.89,1674.20 L706.59,1672.60 L706.31,1671.00 L706.04,1669.40 L705.78,1667.80 L705.50,1666.20 L705.20,1664.60 Z" fill="#fff" stroke="none"/>
<line x1="711.31" y1="1671.00" x2="759.69" y2="1671.00" stroke="#000" stroke-width="3.6" stroke-dasharray="0.1 10.3" stroke-linecap="round"/>
<line x1="700.59" y1="1830.50" x2="770.41" y2="1830.50" stroke="#000" stroke-width="3.6" stroke-dasharray="0.1 10.3" stroke-linecap="round"/>
<line x1="696.54" y1="1799.40" x2="774.46" y2="1799.40" stroke="#000" stroke-width="8.5"/>
<path d="M765.80,1664.60 L765.50,1666.20 L765.22,1667.80 L764.96,1669.40 L764.69,1671.00 L764.41,1672.60 L764.11,1674.20 L763.79,1675.80 L763.42,1677.40 L763.00,1679.00 L762.50,1680.53 L761.88,1682.07 L761.16,1683.60 L760.35,1685.13 L759.48,1686.67 L758.57,1688.20 L757.63,1689.73 L756.69,1691.27 L755.77,1692.80 L754.88,1694.33 L754.05,1695.87 L753.30,1697.40 L752.60,1698.91 L751.90,1700.42 L751.21,1701.93 L750.52,1703.44 L749.85,1704.95 L749.20,1706.45 L748.58,1707.96 L747.99,1709.47 L747.45,1710.98 L746.95,1712.49 L746.50,1714.00 L746.04,1715.62 L745.57,1717.24 L745.11,1718.86 L744.66,1720.48 L744.24,1722.10 L743.87,1723.72 L743.55,1725.34 L743.31,1726.96 L743.15,1728.58 L743.10,1730.20 L743.14,1731.73 L743.27,1733.25 L743.46,1734.78 L743.72,1736.31 L744.03,1737.84 L744.39,1739.36 L744.78,1740.89 L745.19,1742.42 L745.62,1743.95 L746.06,1745.47 L746.50,1747.00 L747.00,1748.60 L747.60,1750.20 L748.27,1751.80 L749.01,1753.40 L749.80,1755.00 L750.62,1756.60 L751.47,1758.20 L752.32,1759.80 L753.17,1761.40 L754.00,1763.00 L754.80,1764.55 L755.62,1766.09 L756.46,1767.64 L757.31,1769.18 L758.18,1770.73 L759.05,1772.27 L759.94,1773.82 L760.83,1775.36 L761.72,1776.91 L762.61,1778.45 L763.50,1780.00 L764.41,1781.55 L765.38,1783.09 L766.37,1784.64 L767.38,1786.18 L768.39,1787.73 L769.38,1789.27 L770.33,1790.82 L771.24,1792.36 L772.08,1793.91 L772.84,1795.45 L773.50,1797.00 L774.13,1798.58 L774.77,1800.16 L775.41,1801.75 L776.04,1803.33 L776.63,1804.91 L777.16,1806.49 L777.64,1808.07 L778.04,1809.65 L778.34,1811.24 L778.53,1812.82 L778.60,1814.40 L778.56,1815.99 L778.44,1817.58 L778.26,1819.16 L778.01,1820.75 L777.70,1822.34 L777.34,1823.92 L776.93,1825.51 L776.48,1827.10 L776.00,1828.69 L775.48,1830.28 L774.95,1831.86 L774.39,1833.45 L773.82,1835.04 L773.25,1836.62 L772.67,1838.21 L772.10,1839.80 L771.49,1841.33 L770.76,1842.87 L769.97,1844.40 L769.13,1845.93 L768.30,1847.47 L767.50,1849.00 L703.50,1849.00 L702.70,1847.47 L701.87,1845.93 L701.03,1844.40 L700.24,1842.87 L699.51,1841.33 L698.90,1839.80 L698.33,1838.21 L697.75,1836.62 L697.18,1835.04 L696.61,1833.45 L696.05,1831.86 L695.52,1830.28 L695.00,1828.69 L694.52,1827.10 L694.07,1825.51 L693.66,1823.92 L693.30,1822.34 L692.99,1820.75 L692.74,1819.16 L692.56,1817.58 L692.44,1815.99 L692.40,1814.40 L692.47,1812.82 L692.66,1811.24 L692.96,1809.65 L693.36,1808.07 L693.84,1806.49 L694.37,1804.91 L694.96,1803.33 L695.59,1801.75 L696.23,1800.16 L696.87,1798.58 L697.50,1797.00 L698.16,1795.45 L698.92,1793.91 L699.76,1792.36 L700.67,1790.82 L701.62,1789.27 L702.61,1787.73 L703.62,1786.18 L704.63,1784.64 L705.62,1783.09 L706.59,1781.55 L707.50,1780.00 L708.39,1778.45 L709.28,1776.91 L710.17,1775.36 L711.06,1773.82 L711.95,1772.27 L712.82,1770.73 L713.69,1769.18 L714.54,1767.64 L715.38,1766.09 L716.20,1764.55 L717.00,1763.00 L717.83,1761.40 L718.68,1759.80 L719.53,1758.20 L720.38,1756.60 L721.20,1755.00 L721.99,1753.40 L722.73,1751.80 L723.40,1750.20 L724.00,1748.60 L724.50,1747.00 L724.94,1745.47 L725.38,1743.95 L725.81,1742.42 L726.22,1740.89 L726.61,1739.36 L726.97,1737.84 L727.28,1736.31 L727.54,1734.78 L727.73,1733.25 L727.86,1731.73 L727.90,1730.20 L727.85,1728.58 L727.69,1726.96 L727.45,1725.34 L727.13,1723.72 L726.76,1722.10 L726.34,1720.48 L725.89,1718.86 L725.43,1717.24 L724.96,1715.62 L724.50,1714.00 L724.05,1712.49 L723.55,1710.98 L723.01,1709.47 L722.42,1707.96 L721.80,1706.45 L721.15,1704.95 L720.48,1703.44 L719.79,1701.93 L719.10,1700.42 L718.40,1698.91 L717.70,1697.40 L716.95,1695.87 L716.12,1694.33 L715.23,1692.80 L714.31,1691.27 L713.37,1689.73 L712.43,1688.20 L711.52,1686.67 L710.65,1685.13 L709.84,1683.60 L709.12,1682.07 L708.50,1680.53 L708.00,1679.00 L707.58,1677.40 L707.21,1675.80 L706.89,1674.20 L706.59,1672.60 L706.31,1671.00 L706.04,1669.40 L705.78,1667.80 L705.50,1666.20 L705.20,1664.60 Z" fill="none" stroke="#000" stroke-width="9.5" stroke-linejoin="round"/>
<rect x="700.50" y="1656.00" width="15" height="15" rx="2" fill="#000"/>
<rect x="728.00" y="1777.00" width="15" height="15" rx="2" fill="#000"/>
<rect x="701.50" y="1805.80" width="15" height="15" rx="2" fill="#000"/>
<rect x="754.50" y="1816.10" width="15" height="15" rx="2" fill="#000"/>
<rect x="728.00" y="1841.50" width="15" height="15" rx="2" fill="#000"/>
<path d="M964.95,1819.40 L963.05,1821.13 L960.88,1822.87 L958.70,1824.60 L956.80,1826.33 L955.46,1828.07 L954.95,1829.80 L955.46,1831.30 L956.80,1832.80 L958.70,1834.30 L960.88,1835.80 L963.05,1837.30 L964.95,1838.80 L876.75,1838.80 L878.65,1837.30 L880.82,1835.80 L883.00,1834.30 L884.90,1832.80 L886.24,1831.30 L886.75,1829.80 L886.24,1828.07 L884.90,1826.33 L883.00,1824.60 L880.82,1822.87 L878.65,1821.13 L876.75,1819.40 Z" fill="#000" stroke="none"/>
<path d="M964.95,1819.40 L963.05,1821.13 L960.88,1822.87 L958.70,1824.60 L956.80,1826.33 L955.46,1828.07 L954.95,1829.80 L955.46,1831.30 L956.80,1832.80 L958.70,1834.30 L960.88,1835.80 L963.05,1837.30 L964.95,1838.80 L876.75,1838.80 L878.65,1837.30 L880.82,1835.80 L883.00,1834.30 L884.90,1832.80 L886.24,1831.30 L886.75,1829.80 L886.24,1828.07 L884.90,1826.33 L883.00,1824.60 L880.82,1822.87 L878.65,1821.13 L876.75,1819.40 Z" fill="none" stroke="#000" stroke-width="9.5" stroke-linejoin="round"/>
<circle cx="920.8" cy="1821" r="7.6" fill="#000"/><circle cx="920.8" cy="1838" r="7.6" fill="#000"/>
<rect x="1035.1" y="1790.6" width="15.3" height="16.6" rx="2.5" fill="#000"/>
<line x1="1494.1" y1="1837.9" x2="1536" y2="1837.9" stroke="#000" stroke-width="6.6" stroke-linecap="round"/>
<line x1="1557.30" y1="1838.30" x2="2463.00" y2="1838.30" stroke="#000" stroke-width="6.4" stroke-dasharray="13.3 20.860" stroke-linecap="round"/>
<path d="M1641.40,1490.20 L1641.29,1491.84 L1641.18,1493.49 L1641.08,1495.13 L1640.97,1496.78 L1640.86,1498.42 L1640.75,1500.07 L1640.64,1501.71 L1640.52,1503.36 L1640.40,1505.00 L1640.28,1506.58 L1640.16,1508.17 L1640.05,1509.75 L1639.93,1511.33 L1639.81,1512.92 L1639.69,1514.50 L1639.55,1516.08 L1639.41,1517.67 L1639.26,1519.25 L1639.09,1520.83 L1638.90,1522.42 L1638.70,1524.00 L1638.46,1525.54 L1638.15,1527.08 L1637.79,1528.62 L1637.39,1530.15 L1636.95,1531.69 L1636.48,1533.23 L1636.00,1534.77 L1635.51,1536.31 L1635.02,1537.85 L1634.55,1539.38 L1634.10,1540.92 L1633.68,1542.46 L1633.30,1544.00 L1632.94,1545.54 L1632.57,1547.08 L1632.20,1548.62 L1631.82,1550.15 L1631.45,1551.69 L1631.09,1553.23 L1630.75,1554.77 L1630.43,1556.31 L1630.13,1557.85 L1629.87,1559.38 L1629.64,1560.92 L1629.44,1562.46 L1629.30,1564.00 L1629.18,1565.53 L1629.07,1567.07 L1628.96,1568.60 L1628.85,1570.13 L1628.75,1571.67 L1628.65,1573.20 L1628.57,1574.73 L1628.49,1576.27 L1628.41,1577.80 L1628.35,1579.33 L1628.30,1580.87 L1628.26,1582.40 L1628.23,1583.93 L1628.21,1585.47 L1628.20,1587.00 L1628.21,1588.50 L1628.25,1590.00 L1628.31,1591.50 L1628.40,1593.00 L1628.50,1594.50 L1628.62,1596.00 L1628.75,1597.50 L1628.90,1599.00 L1629.06,1600.50 L1629.24,1602.00 L1629.41,1603.50 L1629.60,1605.00 L1629.86,1606.62 L1630.21,1608.25 L1630.63,1609.88 L1631.11,1611.50 L1631.63,1613.12 L1632.16,1614.75 L1632.69,1616.38 L1633.20,1618.00 L1633.66,1619.52 L1634.13,1621.04 L1634.61,1622.56 L1635.10,1624.07 L1635.59,1625.59 L1636.09,1627.11 L1636.59,1628.63 L1637.10,1630.15 L1637.62,1631.67 L1638.14,1633.19 L1638.67,1634.70 L1639.20,1636.22 L1639.73,1637.74 L1640.27,1639.26 L1640.81,1640.78 L1641.35,1642.30 L1641.90,1643.81 L1642.44,1645.33 L1642.99,1646.85 L1643.54,1648.37 L1644.09,1649.89 L1644.65,1651.41 L1645.20,1652.93 L1645.75,1654.44 L1646.30,1655.96 L1646.85,1657.48 L1647.40,1659.00 L1647.95,1660.50 L1648.52,1662.00 L1649.10,1663.50 L1649.70,1665.00 L1650.30,1666.50 L1650.91,1668.00 L1651.53,1669.50 L1652.15,1671.00 L1652.77,1672.50 L1653.39,1674.00 L1654.00,1675.50 L1654.61,1677.00 L1655.21,1678.50 L1655.80,1680.00 L1656.37,1681.50 L1656.93,1683.00 L1657.47,1684.50 L1657.98,1686.00 L1658.48,1687.50 L1658.95,1689.00 L1659.39,1690.50 L1659.80,1692.00 L1660.22,1693.54 L1660.65,1695.08 L1661.09,1696.62 L1661.52,1698.15 L1661.95,1699.69 L1662.36,1701.23 L1662.75,1702.77 L1663.09,1704.31 L1663.40,1705.85 L1663.65,1707.38 L1663.84,1708.92 L1663.96,1710.46 L1664.00,1712.00 L1664.00,1713.53 L1664.00,1715.06 L1664.00,1716.59 L1663.99,1718.12 L1663.99,1719.65 L1663.98,1721.18 L1663.98,1722.71 L1663.97,1724.24 L1663.97,1725.76 L1663.96,1727.29 L1663.95,1728.82 L1663.94,1730.35 L1663.93,1731.88 L1663.93,1733.41 L1663.92,1734.94 L1663.91,1736.47 L1663.90,1738.00 L1663.89,1739.53 L1663.88,1741.06 L1663.87,1742.59 L1663.87,1744.12 L1663.86,1745.65 L1663.85,1747.18 L1663.84,1748.71 L1663.83,1750.24 L1663.83,1751.76 L1663.82,1753.29 L1663.82,1754.82 L1663.81,1756.35 L1663.81,1757.88 L1663.80,1759.41 L1663.80,1760.94 L1663.80,1762.47 L1663.80,1764.00 L1663.81,1765.50 L1663.83,1767.00 L1663.86,1768.50 L1663.91,1770.00 L1663.97,1771.50 L1664.04,1773.00 L1664.11,1774.50 L1664.20,1776.00 L1664.29,1777.50 L1664.38,1779.00 L1664.48,1780.50 L1664.59,1782.00 L1664.69,1783.50 L1664.80,1785.00 L1664.91,1786.50 L1665.01,1788.00 L1665.12,1789.50 L1665.22,1791.00 L1665.31,1792.50 L1665.40,1794.00 L1665.49,1795.50 L1665.56,1797.00 L1665.63,1798.50 L1665.69,1800.00 L1665.74,1801.50 L1665.77,1803.00 L1665.79,1804.50 L1665.80,1806.00 L1665.78,1807.51 L1665.74,1809.03 L1665.67,1810.54 L1665.58,1812.05 L1665.47,1813.56 L1665.34,1815.08 L1665.20,1816.59 L1665.05,1818.10 L1664.89,1819.61 L1664.73,1821.12 L1664.56,1822.64 L1664.39,1824.15 L1664.23,1825.66 L1664.08,1827.17 L1663.93,1828.69 L1663.80,1830.20 L1579.80,1830.20 L1579.67,1828.69 L1579.52,1827.17 L1579.37,1825.66 L1579.21,1824.15 L1579.04,1822.64 L1578.87,1821.12 L1578.71,1819.61 L1578.55,1818.10 L1578.40,1816.59 L1578.26,1815.08 L1578.13,1813.56 L1578.02,1812.05 L1577.93,1810.54 L1577.86,1809.03 L1577.82,1807.51 L1577.80,1806.00 L1577.81,1804.50 L1577.83,1803.00 L1577.86,1801.50 L1577.91,1800.00 L1577.97,1798.50 L1578.04,1797.00 L1578.11,1795.50 L1578.20,1794.00 L1578.29,1792.50 L1578.38,1791.00 L1578.48,1789.50 L1578.59,1788.00 L1578.69,1786.50 L1578.80,1785.00 L1578.91,1783.50 L1579.01,1782.00 L1579.12,1780.50 L1579.22,1779.00 L1579.31,1777.50 L1579.40,1776.00 L1579.49,1774.50 L1579.56,1773.00 L1579.63,1771.50 L1579.69,1770.00 L1579.74,1768.50 L1579.77,1767.00 L1579.79,1765.50 L1579.80,1764.00 L1579.80,1762.47 L1579.80,1760.94 L1579.80,1759.41 L1579.79,1757.88 L1579.79,1756.35 L1579.78,1754.82 L1579.78,1753.29 L1579.77,1751.76 L1579.77,1750.24 L1579.76,1748.71 L1579.75,1747.18 L1579.74,1745.65 L1579.73,1744.12 L1579.73,1742.59 L1579.72,1741.06 L1579.71,1739.53 L1579.70,1738.00 L1579.69,1736.47 L1579.68,1734.94 L1579.67,1733.41 L1579.67,1731.88 L1579.66,1730.35 L1579.65,1728.82 L1579.64,1727.29 L1579.63,1725.76 L1579.63,1724.24 L1579.62,1722.71 L1579.62,1721.18 L1579.61,1719.65 L1579.61,1718.12 L1579.60,1716.59 L1579.60,1715.06 L1579.60,1713.53 L1579.60,1712.00 L1579.64,1710.46 L1579.76,1708.92 L1579.95,1707.38 L1580.20,1705.85 L1580.51,1704.31 L1580.85,1702.77 L1581.24,1701.23 L1581.65,1699.69 L1582.08,1698.15 L1582.51,1696.62 L1582.95,1695.08 L1583.38,1693.54 L1583.80,1692.00 L1584.21,1690.50 L1584.65,1689.00 L1585.12,1687.50 L1585.62,1686.00 L1586.13,1684.50 L1586.67,1683.00 L1587.23,1681.50 L1587.80,1680.00 L1588.39,1678.50 L1588.99,1677.00 L1589.60,1675.50 L1590.21,1674.00 L1590.83,1672.50 L1591.45,1671.00 L1592.07,1669.50 L1592.69,1668.00 L1593.30,1666.50 L1593.90,1665.00 L1594.50,1663.50 L1595.08,1662.00 L1595.65,1660.50 L1596.20,1659.00 L1596.75,1657.48 L1597.30,1655.96 L1597.85,1654.44 L1598.40,1652.93 L1598.95,1651.41 L1599.51,1649.89 L1600.06,1648.37 L1600.61,1646.85 L1601.16,1645.33 L1601.70,1643.81 L1602.25,1642.30 L1602.79,1640.78 L1603.33,1639.26 L1603.87,1637.74 L1604.40,1636.22 L1604.93,1634.70 L1605.46,1633.19 L1605.98,1631.67 L1606.50,1630.15 L1607.01,1628.63 L1607.51,1627.11 L1608.01,1625.59 L1608.50,1624.07 L1608.99,1622.56 L1609.47,1621.04 L1609.94,1619.52 L1610.40,1618.00 L1610.91,1616.38 L1611.44,1614.75 L1611.97,1613.12 L1612.49,1611.50 L1612.97,1609.88 L1613.39,1608.25 L1613.74,1606.62 L1614.00,1605.00 L1614.19,1603.50 L1614.36,1602.00 L1614.54,1600.50 L1614.70,1599.00 L1614.85,1597.50 L1614.98,1596.00 L1615.10,1594.50 L1615.20,1593.00 L1615.29,1591.50 L1615.35,1590.00 L1615.39,1588.50 L1615.40,1587.00 L1615.39,1585.47 L1615.37,1583.93 L1615.34,1582.40 L1615.30,1580.87 L1615.25,1579.33 L1615.19,1577.80 L1615.11,1576.27 L1615.03,1574.73 L1614.95,1573.20 L1614.85,1571.67 L1614.75,1570.13 L1614.64,1568.60 L1614.53,1567.07 L1614.42,1565.53 L1614.30,1564.00 L1614.16,1562.46 L1613.96,1560.92 L1613.73,1559.38 L1613.47,1557.85 L1613.17,1556.31 L1612.85,1554.77 L1612.51,1553.23 L1612.15,1551.69 L1611.78,1550.15 L1611.40,1548.62 L1611.03,1547.08 L1610.66,1545.54 L1610.30,1544.00 L1609.92,1542.46 L1609.50,1540.92 L1609.05,1539.38 L1608.58,1537.85 L1608.09,1536.31 L1607.60,1534.77 L1607.12,1533.23 L1606.65,1531.69 L1606.21,1530.15 L1605.81,1528.62 L1605.45,1527.08 L1605.14,1525.54 L1604.90,1524.00 L1604.70,1522.42 L1604.51,1520.83 L1604.34,1519.25 L1604.19,1517.67 L1604.05,1516.08 L1603.91,1514.50 L1603.79,1512.92 L1603.67,1511.33 L1603.55,1509.75 L1603.44,1508.17 L1603.32,1506.58 L1603.20,1505.00 L1603.08,1503.36 L1602.96,1501.71 L1602.85,1500.07 L1602.74,1498.42 L1602.63,1496.78 L1602.52,1495.13 L1602.42,1493.49 L1602.31,1491.84 L1602.20,1490.20 Z" fill="#d3d3d3" stroke="none"/>
<line x1="1584.60" y1="1828.00" x2="1659.00" y2="1828.00" stroke="#000" stroke-width="3.6" stroke-dasharray="0.1 10.3" stroke-linecap="round"/>
<line x1="1579.62" y1="1722.20" x2="1663.98" y2="1722.20" stroke="#000" stroke-width="8.5"/>
<path d="M1641.40,1490.20 L1641.29,1491.84 L1641.18,1493.49 L1641.08,1495.13 L1640.97,1496.78 L1640.86,1498.42 L1640.75,1500.07 L1640.64,1501.71 L1640.52,1503.36 L1640.40,1505.00 L1640.28,1506.58 L1640.16,1508.17 L1640.05,1509.75 L1639.93,1511.33 L1639.81,1512.92 L1639.69,1514.50 L1639.55,1516.08 L1639.41,1517.67 L1639.26,1519.25 L1639.09,1520.83 L1638.90,1522.42 L1638.70,1524.00 L1638.46,1525.54 L1638.15,1527.08 L1637.79,1528.62 L1637.39,1530.15 L1636.95,1531.69 L1636.48,1533.23 L1636.00,1534.77 L1635.51,1536.31 L1635.02,1537.85 L1634.55,1539.38 L1634.10,1540.92 L1633.68,1542.46 L1633.30,1544.00 L1632.94,1545.54 L1632.57,1547.08 L1632.20,1548.62 L1631.82,1550.15 L1631.45,1551.69 L1631.09,1553.23 L1630.75,1554.77 L1630.43,1556.31 L1630.13,1557.85 L1629.87,1559.38 L1629.64,1560.92 L1629.44,1562.46 L1629.30,1564.00 L1629.18,1565.53 L1629.07,1567.07 L1628.96,1568.60 L1628.85,1570.13 L1628.75,1571.67 L1628.65,1573.20 L1628.57,1574.73 L1628.49,1576.27 L1628.41,1577.80 L1628.35,1579.33 L1628.30,1580.87 L1628.26,1582.40 L1628.23,1583.93 L1628.21,1585.47 L1628.20,1587.00 L1628.21,1588.50 L1628.25,1590.00 L1628.31,1591.50 L1628.40,1593.00 L1628.50,1594.50 L1628.62,1596.00 L1628.75,1597.50 L1628.90,1599.00 L1629.06,1600.50 L1629.24,1602.00 L1629.41,1603.50 L1629.60,1605.00 L1629.86,1606.62 L1630.21,1608.25 L1630.63,1609.88 L1631.11,1611.50 L1631.63,1613.12 L1632.16,1614.75 L1632.69,1616.38 L1633.20,1618.00 L1633.66,1619.52 L1634.13,1621.04 L1634.61,1622.56 L1635.10,1624.07 L1635.59,1625.59 L1636.09,1627.11 L1636.59,1628.63 L1637.10,1630.15 L1637.62,1631.67 L1638.14,1633.19 L1638.67,1634.70 L1639.20,1636.22 L1639.73,1637.74 L1640.27,1639.26 L1640.81,1640.78 L1641.35,1642.30 L1641.90,1643.81 L1642.44,1645.33 L1642.99,1646.85 L1643.54,1648.37 L1644.09,1649.89 L1644.65,1651.41 L1645.20,1652.93 L1645.75,1654.44 L1646.30,1655.96 L1646.85,1657.48 L1647.40,1659.00 L1647.95,1660.50 L1648.52,1662.00 L1649.10,1663.50 L1649.70,1665.00 L1650.30,1666.50 L1650.91,1668.00 L1651.53,1669.50 L1652.15,1671.00 L1652.77,1672.50 L1653.39,1674.00 L1654.00,1675.50 L1654.61,1677.00 L1655.21,1678.50 L1655.80,1680.00 L1656.37,1681.50 L1656.93,1683.00 L1657.47,1684.50 L1657.98,1686.00 L1658.48,1687.50 L1658.95,1689.00 L1659.39,1690.50 L1659.80,1692.00 L1660.22,1693.54 L1660.65,1695.08 L1661.09,1696.62 L1661.52,1698.15 L1661.95,1699.69 L1662.36,1701.23 L1662.75,1702.77 L1663.09,1704.31 L1663.40,1705.85 L1663.65,1707.38 L1663.84,1708.92 L1663.96,1710.46 L1664.00,1712.00 L1664.00,1713.53 L1664.00,1715.06 L1664.00,1716.59 L1663.99,1718.12 L1663.99,1719.65 L1663.98,1721.18 L1663.98,1722.71 L1663.97,1724.24 L1663.97,1725.76 L1663.96,1727.29 L1663.95,1728.82 L1663.94,1730.35 L1663.93,1731.88 L1663.93,1733.41 L1663.92,1734.94 L1663.91,1736.47 L1663.90,1738.00 L1663.89,1739.53 L1663.88,1741.06 L1663.87,1742.59 L1663.87,1744.12 L1663.86,1745.65 L1663.85,1747.18 L1663.84,1748.71 L1663.83,1750.24 L1663.83,1751.76 L1663.82,1753.29 L1663.82,1754.82 L1663.81,1756.35 L1663.81,1757.88 L1663.80,1759.41 L1663.80,1760.94 L1663.80,1762.47 L1663.80,1764.00 L1663.81,1765.50 L1663.83,1767.00 L1663.86,1768.50 L1663.91,1770.00 L1663.97,1771.50 L1664.04,1773.00 L1664.11,1774.50 L1664.20,1776.00 L1664.29,1777.50 L1664.38,1779.00 L1664.48,1780.50 L1664.59,1782.00 L1664.69,1783.50 L1664.80,1785.00 L1664.91,1786.50 L1665.01,1788.00 L1665.12,1789.50 L1665.22,1791.00 L1665.31,1792.50 L1665.40,1794.00 L1665.49,1795.50 L1665.56,1797.00 L1665.63,1798.50 L1665.69,1800.00 L1665.74,1801.50 L1665.77,1803.00 L1665.79,1804.50 L1665.80,1806.00 L1665.78,1807.51 L1665.74,1809.03 L1665.67,1810.54 L1665.58,1812.05 L1665.47,1813.56 L1665.34,1815.08 L1665.20,1816.59 L1665.05,1818.10 L1664.89,1819.61 L1664.73,1821.12 L1664.56,1822.64 L1664.39,1824.15 L1664.23,1825.66 L1664.08,1827.17 L1663.93,1828.69 L1663.80,1830.20 L1579.80,1830.20 L1579.67,1828.69 L1579.52,1827.17 L1579.37,1825.66 L1579.21,1824.15 L1579.04,1822.64 L1578.87,1821.12 L1578.71,1819.61 L1578.55,1818.10 L1578.40,1816.59 L1578.26,1815.08 L1578.13,1813.56 L1578.02,1812.05 L1577.93,1810.54 L1577.86,1809.03 L1577.82,1807.51 L1577.80,1806.00 L1577.81,1804.50 L1577.83,1803.00 L1577.86,1801.50 L1577.91,1800.00 L1577.97,1798.50 L1578.04,1797.00 L1578.11,1795.50 L1578.20,1794.00 L1578.29,1792.50 L1578.38,1791.00 L1578.48,1789.50 L1578.59,1788.00 L1578.69,1786.50 L1578.80,1785.00 L1578.91,1783.50 L1579.01,1782.00 L1579.12,1780.50 L1579.22,1779.00 L1579.31,1777.50 L1579.40,1776.00 L1579.49,1774.50 L1579.56,1773.00 L1579.63,1771.50 L1579.69,1770.00 L1579.74,1768.50 L1579.77,1767.00 L1579.79,1765.50 L1579.80,1764.00 L1579.80,1762.47 L1579.80,1760.94 L1579.80,1759.41 L1579.79,1757.88 L1579.79,1756.35 L1579.78,1754.82 L1579.78,1753.29 L1579.77,1751.76 L1579.77,1750.24 L1579.76,1748.71 L1579.75,1747.18 L1579.74,1745.65 L1579.73,1744.12 L1579.73,1742.59 L1579.72,1741.06 L1579.71,1739.53 L1579.70,1738.00 L1579.69,1736.47 L1579.68,1734.94 L1579.67,1733.41 L1579.67,1731.88 L1579.66,1730.35 L1579.65,1728.82 L1579.64,1727.29 L1579.63,1725.76 L1579.63,1724.24 L1579.62,1722.71 L1579.62,1721.18 L1579.61,1719.65 L1579.61,1718.12 L1579.60,1716.59 L1579.60,1715.06 L1579.60,1713.53 L1579.60,1712.00 L1579.64,1710.46 L1579.76,1708.92 L1579.95,1707.38 L1580.20,1705.85 L1580.51,1704.31 L1580.85,1702.77 L1581.24,1701.23 L1581.65,1699.69 L1582.08,1698.15 L1582.51,1696.62 L1582.95,1695.08 L1583.38,1693.54 L1583.80,1692.00 L1584.21,1690.50 L1584.65,1689.00 L1585.12,1687.50 L1585.62,1686.00 L1586.13,1684.50 L1586.67,1683.00 L1587.23,1681.50 L1587.80,1680.00 L1588.39,1678.50 L1588.99,1677.00 L1589.60,1675.50 L1590.21,1674.00 L1590.83,1672.50 L1591.45,1671.00 L1592.07,1669.50 L1592.69,1668.00 L1593.30,1666.50 L1593.90,1665.00 L1594.50,1663.50 L1595.08,1662.00 L1595.65,1660.50 L1596.20,1659.00 L1596.75,1657.48 L1597.30,1655.96 L1597.85,1654.44 L1598.40,1652.93 L1598.95,1651.41 L1599.51,1649.89 L1600.06,1648.37 L1600.61,1646.85 L1601.16,1645.33 L1601.70,1643.81 L1602.25,1642.30 L1602.79,1640.78 L1603.33,1639.26 L1603.87,1637.74 L1604.40,1636.22 L1604.93,1634.70 L1605.46,1633.19 L1605.98,1631.67 L1606.50,1630.15 L1607.01,1628.63 L1607.51,1627.11 L1608.01,1625.59 L1608.50,1624.07 L1608.99,1622.56 L1609.47,1621.04 L1609.94,1619.52 L1610.40,1618.00 L1610.91,1616.38 L1611.44,1614.75 L1611.97,1613.12 L1612.49,1611.50 L1612.97,1609.88 L1613.39,1608.25 L1613.74,1606.62 L1614.00,1605.00 L1614.19,1603.50 L1614.36,1602.00 L1614.54,1600.50 L1614.70,1599.00 L1614.85,1597.50 L1614.98,1596.00 L1615.10,1594.50 L1615.20,1593.00 L1615.29,1591.50 L1615.35,1590.00 L1615.39,1588.50 L1615.40,1587.00 L1615.39,1585.47 L1615.37,1583.93 L1615.34,1582.40 L1615.30,1580.87 L1615.25,1579.33 L1615.19,1577.80 L1615.11,1576.27 L1615.03,1574.73 L1614.95,1573.20 L1614.85,1571.67 L1614.75,1570.13 L1614.64,1568.60 L1614.53,1567.07 L1614.42,1565.53 L1614.30,1564.00 L1614.16,1562.46 L1613.96,1560.92 L1613.73,1559.38 L1613.47,1557.85 L1613.17,1556.31 L1612.85,1554.77 L1612.51,1553.23 L1612.15,1551.69 L1611.78,1550.15 L1611.40,1548.62 L1611.03,1547.08 L1610.66,1545.54 L1610.30,1544.00 L1609.92,1542.46 L1609.50,1540.92 L1609.05,1539.38 L1608.58,1537.85 L1608.09,1536.31 L1607.60,1534.77 L1607.12,1533.23 L1606.65,1531.69 L1606.21,1530.15 L1605.81,1528.62 L1605.45,1527.08 L1605.14,1525.54 L1604.90,1524.00 L1604.70,1522.42 L1604.51,1520.83 L1604.34,1519.25 L1604.19,1517.67 L1604.05,1516.08 L1603.91,1514.50 L1603.79,1512.92 L1603.67,1511.33 L1603.55,1509.75 L1603.44,1508.17 L1603.32,1506.58 L1603.20,1505.00 L1603.08,1503.36 L1602.96,1501.71 L1602.85,1500.07 L1602.74,1498.42 L1602.63,1496.78 L1602.52,1495.13 L1602.42,1493.49 L1602.31,1491.84 L1602.20,1490.20 Z" fill="none" stroke="#000" stroke-width="9.5" stroke-linejoin="round"/>
<circle cx="1621.80" cy="1489.00" r="7.6" fill="#000"/>
<circle cx="1621.60" cy="1694.20" r="7.6" fill="#000"/>
<circle cx="1621.80" cy="1722.20" r="7.6" fill="#000"/>
<circle cx="1649.00" cy="1822.80" r="7.6" fill="#000"/>
<circle cx="1593.70" cy="1827.50" r="7.6" fill="#000"/>
<circle cx="1621.80" cy="1829.00" r="7.6" fill="#000"/>
<path d="M1778.00,1702.00 L1777.00,1703.67 L1776.01,1705.33 L1775.00,1707.00 L1774.02,1708.56 L1773.00,1710.12 L1771.96,1711.69 L1770.92,1713.25 L1769.91,1714.81 L1768.94,1716.38 L1768.03,1717.94 L1767.20,1719.50 L1766.34,1721.15 L1765.42,1722.80 L1764.51,1724.45 L1763.65,1726.10 L1762.90,1727.75 L1762.29,1729.40 L1761.89,1731.05 L1761.75,1732.70 L1761.77,1734.25 L1761.83,1735.79 L1761.94,1737.34 L1762.08,1738.89 L1762.26,1740.44 L1762.47,1741.98 L1762.72,1743.53 L1763.00,1745.08 L1763.32,1746.62 L1763.66,1748.17 L1764.03,1749.72 L1764.43,1751.26 L1764.86,1752.81 L1765.31,1754.36 L1765.79,1755.91 L1766.28,1757.45 L1766.80,1759.00 L1767.54,1760.50 L1768.65,1762.00 L1769.97,1763.50 L1771.35,1765.00 L1772.65,1766.50 L1773.70,1768.00 L1774.51,1769.50 L1775.22,1771.00 L1775.87,1772.50 L1776.51,1774.00 L1777.21,1775.50 L1778.00,1777.00 L1779.02,1778.62 L1780.20,1780.25 L1781.47,1781.88 L1782.80,1783.50 L1784.13,1785.12 L1785.42,1786.75 L1786.63,1788.38 L1787.70,1790.00 L1788.84,1791.72 L1790.04,1793.44 L1791.12,1795.16 L1791.90,1796.88 L1792.20,1798.60 L1792.04,1800.11 L1791.61,1801.63 L1790.99,1803.14 L1790.24,1804.66 L1789.44,1806.17 L1788.67,1807.69 L1788.00,1809.20 L1710.00,1809.20 L1709.33,1807.69 L1708.56,1806.17 L1707.76,1804.66 L1707.01,1803.14 L1706.39,1801.63 L1705.96,1800.11 L1705.80,1798.60 L1706.10,1796.88 L1706.88,1795.16 L1707.96,1793.44 L1709.16,1791.72 L1710.30,1790.00 L1711.37,1788.38 L1712.58,1786.75 L1713.87,1785.12 L1715.20,1783.50 L1716.53,1781.88 L1717.80,1780.25 L1718.98,1778.62 L1720.00,1777.00 L1720.79,1775.50 L1721.49,1774.00 L1722.13,1772.50 L1722.78,1771.00 L1723.49,1769.50 L1724.30,1768.00 L1725.35,1766.50 L1726.65,1765.00 L1728.03,1763.50 L1729.35,1762.00 L1730.46,1760.50 L1731.20,1759.00 L1731.72,1757.45 L1732.21,1755.91 L1732.69,1754.36 L1733.14,1752.81 L1733.57,1751.26 L1733.97,1749.72 L1734.34,1748.17 L1734.68,1746.62 L1735.00,1745.08 L1735.28,1743.53 L1735.53,1741.98 L1735.74,1740.44 L1735.92,1738.89 L1736.06,1737.34 L1736.17,1735.79 L1736.23,1734.25 L1736.25,1732.70 L1736.11,1731.05 L1735.71,1729.40 L1735.10,1727.75 L1734.35,1726.10 L1733.49,1724.45 L1732.58,1722.80 L1731.66,1721.15 L1730.80,1719.50 L1729.97,1717.94 L1729.06,1716.38 L1728.09,1714.81 L1727.08,1713.25 L1726.04,1711.69 L1725.00,1710.12 L1723.98,1708.56 L1723.00,1707.00 L1721.99,1705.33 L1721.00,1703.67 L1720.00,1702.00 Z" fill="#fff" stroke="none"/>
<line x1="1715.96" y1="1789.00" x2="1782.04" y2="1789.00" stroke="#000" stroke-width="3.6" stroke-dasharray="0.1 10.3" stroke-linecap="round"/>
<line x1="1717.22" y1="1781.00" x2="1780.78" y2="1781.00" stroke="#000" stroke-width="8.5"/>
<path d="M1778.00,1702.00 L1777.00,1703.67 L1776.01,1705.33 L1775.00,1707.00 L1774.02,1708.56 L1773.00,1710.12 L1771.96,1711.69 L1770.92,1713.25 L1769.91,1714.81 L1768.94,1716.38 L1768.03,1717.94 L1767.20,1719.50 L1766.34,1721.15 L1765.42,1722.80 L1764.51,1724.45 L1763.65,1726.10 L1762.90,1727.75 L1762.29,1729.40 L1761.89,1731.05 L1761.75,1732.70 L1761.77,1734.25 L1761.83,1735.79 L1761.94,1737.34 L1762.08,1738.89 L1762.26,1740.44 L1762.47,1741.98 L1762.72,1743.53 L1763.00,1745.08 L1763.32,1746.62 L1763.66,1748.17 L1764.03,1749.72 L1764.43,1751.26 L1764.86,1752.81 L1765.31,1754.36 L1765.79,1755.91 L1766.28,1757.45 L1766.80,1759.00 L1767.54,1760.50 L1768.65,1762.00 L1769.97,1763.50 L1771.35,1765.00 L1772.65,1766.50 L1773.70,1768.00 L1774.51,1769.50 L1775.22,1771.00 L1775.87,1772.50 L1776.51,1774.00 L1777.21,1775.50 L1778.00,1777.00 L1779.02,1778.62 L1780.20,1780.25 L1781.47,1781.88 L1782.80,1783.50 L1784.13,1785.12 L1785.42,1786.75 L1786.63,1788.38 L1787.70,1790.00 L1788.84,1791.72 L1790.04,1793.44 L1791.12,1795.16 L1791.90,1796.88 L1792.20,1798.60 L1792.04,1800.11 L1791.61,1801.63 L1790.99,1803.14 L1790.24,1804.66 L1789.44,1806.17 L1788.67,1807.69 L1788.00,1809.20 L1710.00,1809.20 L1709.33,1807.69 L1708.56,1806.17 L1707.76,1804.66 L1707.01,1803.14 L1706.39,1801.63 L1705.96,1800.11 L1705.80,1798.60 L1706.10,1796.88 L1706.88,1795.16 L1707.96,1793.44 L1709.16,1791.72 L1710.30,1790.00 L1711.37,1788.38 L1712.58,1786.75 L1713.87,1785.12 L1715.20,1783.50 L1716.53,1781.88 L1717.80,1780.25 L1718.98,1778.62 L1720.00,1777.00 L1720.79,1775.50 L1721.49,1774.00 L1722.13,1772.50 L1722.78,1771.00 L1723.49,1769.50 L1724.30,1768.00 L1725.35,1766.50 L1726.65,1765.00 L1728.03,1763.50 L1729.35,1762.00 L1730.46,1760.50 L1731.20,1759.00 L1731.72,1757.45 L1732.21,1755.91 L1732.69,1754.36 L1733.14,1752.81 L1733.57,1751.26 L1733.97,1749.72 L1734.34,1748.17 L1734.68,1746.62 L1735.00,1745.08 L1735.28,1743.53 L1735.53,1741.98 L1735.74,1740.44 L1735.92,1738.89 L1736.06,1737.34 L1736.17,1735.79 L1736.23,1734.25 L1736.25,1732.70 L1736.11,1731.05 L1735.71,1729.40 L1735.10,1727.75 L1734.35,1726.10 L1733.49,1724.45 L1732.58,1722.80 L1731.66,1721.15 L1730.80,1719.50 L1729.97,1717.94 L1729.06,1716.38 L1728.09,1714.81 L1727.08,1713.25 L1726.04,1711.69 L1725.00,1710.12 L1723.98,1708.56 L1723.00,1707.00 L1721.99,1705.33 L1721.00,1703.67 L1720.00,1702.00 Z" fill="none" stroke="#000" stroke-width="9.5" stroke-linejoin="round"/>
<rect x="1740.90" y="1693.10" width="15" height="15" rx="2" fill="#000"/>
<rect x="1713.50" y="1696.50" width="15" height="15" rx="2" fill="#000"/>
<rect x="1740.90" y="1744.10" width="15" height="15" rx="2" fill="#000"/>
<rect x="1740.90" y="1786.70" width="15" height="15" rx="2" fill="#000"/>
<rect x="1714.10" y="1801.70" width="15" height="15" rx="2" fill="#000"/>
<rect x="1767.70" y="1797.30" width="15" height="15" rx="2" fill="#000"/>
<path d="M1971.30,1780.30 L1971.16,1781.83 L1971.04,1783.36 L1970.91,1784.89 L1970.79,1786.41 L1970.64,1787.94 L1970.49,1789.47 L1970.30,1791.00 L1970.05,1792.60 L1969.72,1794.20 L1969.35,1795.80 L1968.95,1797.40 L1968.55,1799.00 L1968.16,1800.60 L1967.80,1802.20 L1967.43,1803.84 L1967.02,1805.49 L1966.60,1807.13 L1966.22,1808.77 L1965.90,1810.41 L1965.68,1812.06 L1965.60,1813.70 L1966.22,1815.34 L1967.82,1816.99 L1970.01,1818.63 L1972.39,1820.27 L1974.58,1821.91 L1976.18,1823.56 L1976.80,1825.20 L1976.77,1826.77 L1976.69,1828.35 L1976.57,1829.92 L1976.40,1831.49 L1976.20,1833.06 L1975.96,1834.64 L1975.69,1836.21 L1975.39,1837.78 L1975.08,1839.35 L1974.74,1840.93 L1974.40,1842.50 L1973.91,1844.12 L1973.24,1845.75 L1972.50,1847.38 L1971.80,1849.00 L1895.80,1849.00 L1895.10,1847.38 L1894.36,1845.75 L1893.69,1844.12 L1893.20,1842.50 L1892.86,1840.93 L1892.52,1839.35 L1892.21,1837.78 L1891.91,1836.21 L1891.64,1834.64 L1891.40,1833.06 L1891.20,1831.49 L1891.03,1829.92 L1890.91,1828.35 L1890.83,1826.77 L1890.80,1825.20 L1891.42,1823.56 L1893.02,1821.91 L1895.21,1820.27 L1897.59,1818.63 L1899.78,1816.99 L1901.38,1815.34 L1902.00,1813.70 L1901.92,1812.06 L1901.70,1810.41 L1901.38,1808.77 L1901.00,1807.13 L1900.58,1805.49 L1900.17,1803.84 L1899.80,1802.20 L1899.44,1800.60 L1899.05,1799.00 L1898.65,1797.40 L1898.25,1795.80 L1897.88,1794.20 L1897.55,1792.60 L1897.30,1791.00 L1897.11,1789.47 L1896.96,1787.94 L1896.81,1786.41 L1896.69,1784.89 L1896.56,1783.36 L1896.44,1781.83 L1896.30,1780.30 Z" fill="#d3d3d3" stroke="none"/>
<line x1="1902.33" y1="1791.20" x2="1965.27" y2="1791.20" stroke="#000" stroke-width="3.6" stroke-dasharray="0.1 10.3" stroke-linecap="round"/>
<line x1="1899.47" y1="1846.00" x2="1968.13" y2="1846.00" stroke="#000" stroke-width="3.6" stroke-dasharray="0.1 10.3" stroke-linecap="round"/>
<line x1="1891.25" y1="1824.00" x2="1976.35" y2="1824.00" stroke="#000" stroke-width="8.5"/>
<path d="M1971.30,1780.30 L1971.16,1781.83 L1971.04,1783.36 L1970.91,1784.89 L1970.79,1786.41 L1970.64,1787.94 L1970.49,1789.47 L1970.30,1791.00 L1970.05,1792.60 L1969.72,1794.20 L1969.35,1795.80 L1968.95,1797.40 L1968.55,1799.00 L1968.16,1800.60 L1967.80,1802.20 L1967.43,1803.84 L1967.02,1805.49 L1966.60,1807.13 L1966.22,1808.77 L1965.90,1810.41 L1965.68,1812.06 L1965.60,1813.70 L1966.22,1815.34 L1967.82,1816.99 L1970.01,1818.63 L1972.39,1820.27 L1974.58,1821.91 L1976.18,1823.56 L1976.80,1825.20 L1976.77,1826.77 L1976.69,1828.35 L1976.57,1829.92 L1976.40,1831.49 L1976.20,1833.06 L1975.96,1834.64 L1975.69,1836.21 L1975.39,1837.78 L1975.08,1839.35 L1974.74,1840.93 L1974.40,1842.50 L1973.91,1844.12 L1973.24,1845.75 L1972.50,1847.38 L1971.80,1849.00 L1895.80,1849.00 L1895.10,1847.38 L1894.36,1845.75 L1893.69,1844.12 L1893.20,1842.50 L1892.86,1840.93 L1892.52,1839.35 L1892.21,1837.78 L1891.91,1836.21 L1891.64,1834.64 L1891.40,1833.06 L1891.20,1831.49 L1891.03,1829.92 L1890.91,1828.35 L1890.83,1826.77 L1890.80,1825.20 L1891.42,1823.56 L1893.02,1821.91 L1895.21,1820.27 L1897.59,1818.63 L1899.78,1816.99 L1901.38,1815.34 L1902.00,1813.70 L1901.92,1812.06 L1901.70,1810.41 L1901.38,1808.77 L1901.00,1807.13 L1900.58,1805.49 L1900.17,1803.84 L1899.80,1802.20 L1899.44,1800.60 L1899.05,1799.00 L1898.65,1797.40 L1898.25,1795.80 L1897.88,1794.20 L1897.55,1792.60 L1897.30,1791.00 L1897.11,1789.47 L1896.96,1787.94 L1896.81,1786.41 L1896.69,1784.89 L1896.56,1783.36 L1896.44,1781.83 L1896.30,1780.30 Z" fill="none" stroke="#000" stroke-width="9.5" stroke-linejoin="round"/>
<circle cx="1933.40" cy="1790.60" r="7.6" fill="#000"/>
<circle cx="1933.40" cy="1806.80" r="7.6" fill="#000"/>
<circle cx="1933.40" cy="1832.10" r="7.6" fill="#000"/>
<circle cx="1961.00" cy="1844.80" r="7.6" fill="#000"/>
<circle cx="1906.30" cy="1856.30" r="7.6" fill="#000"/>
<circle cx="1905.70" cy="1778.00" r="7.6" fill="#000"/>
<circle cx="1961.00" cy="1822.90" r="7.6" fill="#000"/>
<path d="M2069.70,1733.00 L2069.07,1734.60 L2068.45,1736.20 L2067.83,1737.80 L2067.18,1739.40 L2066.50,1741.00 L2065.77,1742.57 L2065.00,1744.14 L2064.19,1745.71 L2063.37,1747.29 L2062.55,1748.86 L2061.76,1750.43 L2061.00,1752.00 L2060.16,1753.60 L2059.23,1755.20 L2058.37,1756.80 L2057.74,1758.40 L2057.50,1760.00 L2057.50,1761.56 L2057.50,1763.12 L2057.50,1764.69 L2057.50,1766.25 L2057.50,1767.81 L2057.50,1769.38 L2057.50,1770.94 L2057.50,1772.50 L2057.50,1774.06 L2057.50,1775.62 L2057.50,1777.19 L2057.50,1778.75 L2057.50,1780.31 L2057.50,1781.88 L2057.50,1783.44 L2057.50,1785.00 L2058.89,1786.87 L2061.95,1788.73 L2065.00,1790.60 L2067.25,1792.26 L2069.54,1793.91 L2071.83,1795.57 L2074.11,1797.23 L2076.33,1798.89 L2078.47,1800.54 L2080.50,1802.20 L2082.44,1803.84 L2084.35,1805.49 L2086.22,1807.13 L2088.01,1808.77 L2089.70,1810.41 L2091.28,1812.06 L2092.70,1813.70 L2094.03,1815.23 L2095.42,1816.77 L2096.74,1818.30 L2097.85,1819.83 L2098.61,1821.37 L2098.90,1822.90 L2098.67,1824.49 L2098.05,1826.07 L2097.16,1827.66 L2096.10,1829.24 L2094.98,1830.83 L2093.91,1832.41 L2093.00,1834.00 L2092.09,1835.70 L2091.12,1837.40 L2090.21,1839.10 L2089.47,1840.80 L2089.00,1842.50 L2088.76,1844.08 L2088.57,1845.67 L2088.42,1847.25 L2088.28,1848.83 L2088.15,1850.42 L2088.00,1852.00 L2024.00,1852.00 L2023.85,1850.42 L2023.72,1848.83 L2023.58,1847.25 L2023.43,1845.67 L2023.24,1844.08 L2023.00,1842.50 L2022.53,1840.80 L2021.79,1839.10 L2020.88,1837.40 L2019.91,1835.70 L2019.00,1834.00 L2018.09,1832.41 L2017.02,1830.83 L2015.90,1829.24 L2014.84,1827.66 L2013.95,1826.07 L2013.33,1824.49 L2013.10,1822.90 L2013.39,1821.37 L2014.15,1819.83 L2015.26,1818.30 L2016.58,1816.77 L2017.97,1815.23 L2019.30,1813.70 L2020.72,1812.06 L2022.30,1810.41 L2023.99,1808.77 L2025.78,1807.13 L2027.65,1805.49 L2029.56,1803.84 L2031.50,1802.20 L2033.53,1800.54 L2035.67,1798.89 L2037.89,1797.23 L2040.17,1795.57 L2042.46,1793.91 L2044.75,1792.26 L2047.00,1790.60 L2050.05,1788.73 L2053.11,1786.87 L2054.50,1785.00 L2054.50,1783.44 L2054.50,1781.88 L2054.50,1780.31 L2054.50,1778.75 L2054.50,1777.19 L2054.50,1775.62 L2054.50,1774.06 L2054.50,1772.50 L2054.50,1770.94 L2054.50,1769.38 L2054.50,1767.81 L2054.50,1766.25 L2054.50,1764.69 L2054.50,1763.12 L2054.50,1761.56 L2054.50,1760.00 L2054.26,1758.40 L2053.63,1756.80 L2052.77,1755.20 L2051.84,1753.60 L2051.00,1752.00 L2050.24,1750.43 L2049.45,1748.86 L2048.63,1747.29 L2047.81,1745.71 L2047.00,1744.14 L2046.23,1742.57 L2045.50,1741.00 L2044.82,1739.40 L2044.17,1737.80 L2043.55,1736.20 L2042.93,1734.60 L2042.30,1733.00 Z" fill="#fff" stroke="none"/>
<line x1="2028.76" y1="1849.40" x2="2083.24" y2="1849.40" stroke="#000" stroke-width="3.6" stroke-dasharray="0.1 10.3" stroke-linecap="round"/>
<line x1="2013.10" y1="1822.90" x2="2098.90" y2="1822.90" stroke="#000" stroke-width="8.5"/>
<path d="M2069.70,1733.00 L2069.07,1734.60 L2068.45,1736.20 L2067.83,1737.80 L2067.18,1739.40 L2066.50,1741.00 L2065.77,1742.57 L2065.00,1744.14 L2064.19,1745.71 L2063.37,1747.29 L2062.55,1748.86 L2061.76,1750.43 L2061.00,1752.00 L2060.16,1753.60 L2059.23,1755.20 L2058.37,1756.80 L2057.74,1758.40 L2057.50,1760.00 L2057.50,1761.56 L2057.50,1763.12 L2057.50,1764.69 L2057.50,1766.25 L2057.50,1767.81 L2057.50,1769.38 L2057.50,1770.94 L2057.50,1772.50 L2057.50,1774.06 L2057.50,1775.62 L2057.50,1777.19 L2057.50,1778.75 L2057.50,1780.31 L2057.50,1781.88 L2057.50,1783.44 L2057.50,1785.00 L2058.89,1786.87 L2061.95,1788.73 L2065.00,1790.60 L2067.25,1792.26 L2069.54,1793.91 L2071.83,1795.57 L2074.11,1797.23 L2076.33,1798.89 L2078.47,1800.54 L2080.50,1802.20 L2082.44,1803.84 L2084.35,1805.49 L2086.22,1807.13 L2088.01,1808.77 L2089.70,1810.41 L2091.28,1812.06 L2092.70,1813.70 L2094.03,1815.23 L2095.42,1816.77 L2096.74,1818.30 L2097.85,1819.83 L2098.61,1821.37 L2098.90,1822.90 L2098.67,1824.49 L2098.05,1826.07 L2097.16,1827.66 L2096.10,1829.24 L2094.98,1830.83 L2093.91,1832.41 L2093.00,1834.00 L2092.09,1835.70 L2091.12,1837.40 L2090.21,1839.10 L2089.47,1840.80 L2089.00,1842.50 L2088.76,1844.08 L2088.57,1845.67 L2088.42,1847.25 L2088.28,1848.83 L2088.15,1850.42 L2088.00,1852.00 L2024.00,1852.00 L2023.85,1850.42 L2023.72,1848.83 L2023.58,1847.25 L2023.43,1845.67 L2023.24,1844.08 L2023.00,1842.50 L2022.53,1840.80 L2021.79,1839.10 L2020.88,1837.40 L2019.91,1835.70 L2019.00,1834.00 L2018.09,1832.41 L2017.02,1830.83 L2015.90,1829.24 L2014.84,1827.66 L2013.95,1826.07 L2013.33,1824.49 L2013.10,1822.90 L2013.39,1821.37 L2014.15,1819.83 L2015.26,1818.30 L2016.58,1816.77 L2017.97,1815.23 L2019.30,1813.70 L2020.72,1812.06 L2022.30,1810.41 L2023.99,1808.77 L2025.78,1807.13 L2027.65,1805.49 L2029.56,1803.84 L2031.50,1802.20 L2033.53,1800.54 L2035.67,1798.89 L2037.89,1797.23 L2040.17,1795.57 L2042.46,1793.91 L2044.75,1792.26 L2047.00,1790.60 L2050.05,1788.73 L2053.11,1786.87 L2054.50,1785.00 L2054.50,1783.44 L2054.50,1781.88 L2054.50,1780.31 L2054.50,1778.75 L2054.50,1777.19 L2054.50,1775.62 L2054.50,1774.06 L2054.50,1772.50 L2054.50,1770.94 L2054.50,1769.38 L2054.50,1767.81 L2054.50,1766.25 L2054.50,1764.69 L2054.50,1763.12 L2054.50,1761.56 L2054.50,1760.00 L2054.26,1758.40 L2053.63,1756.80 L2052.77,1755.20 L2051.84,1753.60 L2051.00,1752.00 L2050.24,1750.43 L2049.45,1748.86 L2048.63,1747.29 L2047.81,1745.71 L2047.00,1744.14 L2046.23,1742.57 L2045.50,1741.00 L2044.82,1739.40 L2044.17,1737.80 L2043.55,1736.20 L2042.93,1734.60 L2042.30,1733.00 Z" fill="none" stroke="#000" stroke-width="9.5" stroke-linejoin="round"/>
<circle cx="2031.30" cy="1816.00" r="7.6" fill="#000"/>
<rect x="2048.50" y="1722.50" width="15" height="15" rx="2" fill="#000"/>
<rect x="2048.00" y="1806.20" width="15" height="15" rx="2" fill="#000"/>
<rect x="2073.30" y="1817.70" width="15" height="15" rx="2" fill="#000"/>
<rect x="2075.60" y="1840.70" width="15" height="15" rx="2" fill="#000"/>
<rect x="2021.50" y="1852.30" width="15" height="15" rx="2" fill="#000"/>
<rect x="2195.2" y="1823.5" width="96.8" height="28.3" rx="6" fill="#000"/>
<path d="M2293,1831.5 Q2286,1836 2284.4,1838.7 Q2286,1841.5 2293,1846 Z" fill="#fefefe"/>
<path d="M2194,1834.5 Q2197.5,1837 2198.2,1838.7 Q2197.5,1840.5 2194,1843 Z" fill="#fefefe"/>
<path d="M2234,1826 L2243.4,1819.5 L2253,1826 Z" fill="#000"/>
<rect x="2357.4" y="1812.3" width="15.7" height="16.2" rx="2.5" fill="#000"/>
</svg></body></html>
